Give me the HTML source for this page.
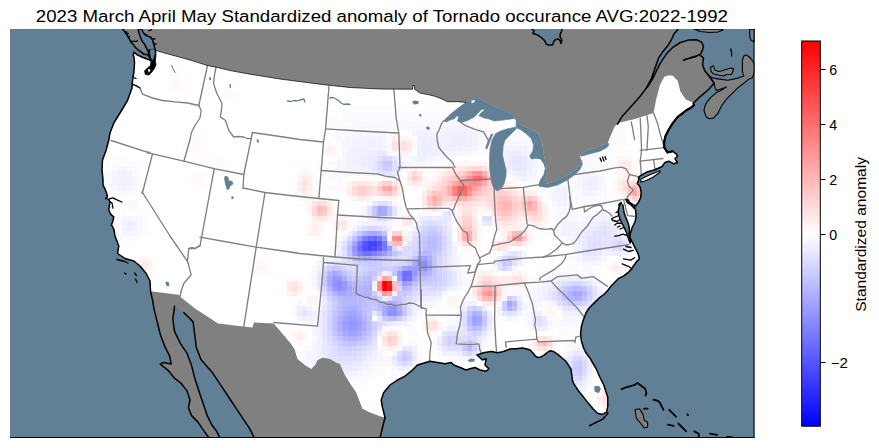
<!DOCTYPE html>
<html><head><meta charset="utf-8"><title>Tornado anomaly</title>
<style>html,body{margin:0;padding:0;background:#fff;overflow:hidden;}svg{display:block;}</style></head>
<body><svg width="879" height="448" viewBox="0 0 879 448"><defs><clipPath id="ax"><rect x="10" y="29.1" width="744.5" height="408.9"/></clipPath><clipPath id="us"><polygon points="155.6,50.5 170.0,54.5 190.0,60.0 207.5,65.5 216.2,67.2 230.0,70.5 250.0,74.2 280.0,79.0 320.0,84.2 350.0,87.5 380.0,89.0 412.5,89.2 413.0,85.5 414.5,85.5 414.5,89.2 420.0,93.0 430.0,95.0 435.4,96.4 440.7,98.4 447.4,101.7 456.8,101.7 462.0,102.0 466.1,102.4 466.1,102.4 471.5,99.7 477.5,97.7 483.5,101.1 494.3,106.4 505.0,111.1 511.7,113.8 514.3,117.1 516.2,120.0 520.3,124.7 531.3,129.4 539.1,134.1 542.2,143.4 543.8,154.4 546.1,165.3 546.9,171.6 545.3,179.4 542.2,184.1 547.5,183.8 557.5,180.0 567.5,175.0 575.0,170.0 580.0,165.0 581.2,160.0 580.0,155.0 585.0,151.2 595.0,148.0 605.0,143.8 608.0,142.5 610.0,137.5 615.0,126.2 620.0,122.5 635.0,119.0 653.6,112.9 656.0,100.0 660.0,85.0 664.3,76.7 668.0,75.5 672.4,75.4 677.7,80.7 680.4,91.4 685.8,99.5 692.5,102.2 694.0,105.0 691.2,107.5 686.0,110.5 683.1,112.9 677.7,116.9 672.4,123.6 668.4,130.3 665.5,136.0 664.3,141.0 664.3,147.7 667.5,152.5 672.5,151.2 676.2,153.8 677.5,156.2 675.0,158.8 677.5,162.5 673.8,163.8 668.8,161.2 665.0,162.5 661.8,166.7 654.0,170.0 646.2,172.3 640.6,175.6 638.4,177.8 639.0,179.0 637.3,183.4 640.1,186.8 641.2,192.3 640.6,197.9 638.4,202.4 635.6,205.7 634.2,208.1 635.5,209.4 636.2,216.8 634.9,222.2 632.2,227.5 630.2,234.2 629.8,235.5 630.3,238.5 630.8,239.3 633.3,244.2 635.7,249.1 638.2,254.0 639.4,258.9 636.9,261.3 633.3,266.3 630.8,269.9 628.3,272.4 623.4,276.1 618.5,278.5 614.8,282.2 611.2,285.9 607.5,290.8 603.8,294.5 598.9,298.2 594.0,303.1 589.1,308.0 586.2,312.5 583.3,320.0 581.3,326.8 580.6,333.7 581.3,340.5 583.3,347.3 586.0,352.8 590.0,358.2 592.5,362.5 596.2,368.8 600.0,377.5 603.8,385.0 606.2,392.5 607.8,397.3 607.8,406.4 606.6,412.1 602.1,414.4 597.5,413.2 593.0,408.7 587.3,401.9 582.8,396.2 578.2,390.5 573.7,383.7 572.4,380.0 571.7,374.6 571.0,369.1 568.3,365.0 565.6,361.0 561.5,357.5 557.4,354.1 553.3,351.4 550.5,350.7 547.8,352.1 544.4,354.8 541.0,356.9 538.3,357.5 535.5,356.2 532.8,352.8 530.1,350.0 526.0,348.7 521.9,348.0 516.4,348.7 511.0,348.7 505.5,350.7 501.4,352.1 497.3,352.8 491.8,351.4 487.7,352.1 483.6,352.8 480.0,354.0 477.0,355.0 482.5,360.0 486.2,358.8 485.0,365.0 488.8,368.8 486.2,371.2 480.0,370.0 475.0,367.5 470.0,368.8 466.2,370.0 460.0,367.5 453.8,365.0 451.2,362.5 445.0,363.8 437.5,362.5 430.0,361.2 417.5,365.0 412.5,370.0 405.0,376.2 397.5,380.0 390.0,385.0 383.8,392.5 381.2,400.0 382.5,407.5 385.0,417.5 380.0,416.2 370.0,412.5 362.5,408.8 360.0,402.5 356.2,392.5 351.2,385.0 345.0,375.0 340.0,363.8 336.2,362.5 330.0,358.8 322.5,357.5 317.5,360.0 315.0,365.0 311.2,368.8 305.0,365.0 297.5,358.8 295.0,350.0 290.0,342.5 282.5,333.8 275.0,325.0 273.8,323.5 254.1,322.5 252.5,327.5 243.1,326.6 218.1,323.4 195.0,308.5 180.0,296.5 178.8,294.8 152.5,291.5 150.5,291.0 150.0,281.0 146.2,273.5 140.0,266.0 133.8,261.0 125.0,258.5 117.5,253.5 118.8,246.0 115.0,236.0 113.8,229.0 111.5,225.0 112.9,220.7 113.8,217.1 110.2,213.6 108.8,210.0 109.3,205.5 110.2,202.0 108.4,199.3 105.7,198.4 107.5,196.6 106.6,193.0 104.8,188.6 103.0,185.0 103.0,180.0 102.0,170.0 102.5,160.0 106.2,150.0 108.8,140.0 110.0,133.0 113.8,123.0 120.0,113.0 127.5,100.5 132.0,88.0 132.5,80.5 133.8,73.0 134.5,63.0 134.2,58.4 133.8,52.1 137.3,54.8 141.8,57.0 146.2,58.8 149.8,60.1 151.6,61.0 152.5,62.8 154.0,58.0 155.6,53.0"/></clipPath><linearGradient id="cb" x1="0" y1="0" x2="0" y2="1"><stop offset="0" stop-color="#ff0000"/><stop offset="0.5014" stop-color="#ffffff"/><stop offset="1" stop-color="#0000ff"/></linearGradient></defs>
<text x="35.8" y="21.6" font-family="Liberation Sans, sans-serif" font-size="16.67" textLength="692.2" lengthAdjust="spacingAndGlyphs" fill="#000">2023 March April May Standardized anomaly of Tornado occurance AVG:2022-1992</text>
<g clip-path="url(#ax)">
<rect x="10" y="29.1" width="744.5" height="408.9" fill="#808080"/>
<polygon points="10.0,29.1 122.6,29.1 122.6,29.3 124.8,31.6 126.6,34.2 128.4,36.9 129.7,39.6 131.1,42.3 133.3,44.5 134.2,45.9 136.4,48.5 140.0,51.2 143.6,53.9 147.1,54.8 149.8,54.8 148.0,51.2 146.2,47.6 144.5,44.1 141.8,40.5 140.0,36.0 138.7,31.6 138.2,29.1 141.8,29.1 142.7,31.6 144.5,34.2 146.2,35.6 149.8,36.9 152.5,39.6 153.4,43.2 154.3,45.9 155.2,50.3 155.6,53.0 154.0,58.0 152.5,62.8 151.6,61.0 149.8,60.1 146.2,58.8 141.8,57.0 137.3,54.8 133.8,52.1 133.3,54.8 134.2,58.4 134.5,63.0 133.8,73.0 132.5,80.5 132.0,88.0 127.5,100.5 120.0,113.0 113.8,123.0 110.0,133.0 108.8,140.0 106.2,150.0 102.5,160.0 102.0,170.0 103.0,180.0 103.0,185.0 104.8,188.6 106.6,193.0 107.5,196.6 105.7,198.4 108.4,199.3 110.2,202.0 109.3,205.5 108.8,210.0 110.2,213.6 113.8,217.1 112.9,220.7 111.5,225.0 113.8,229.0 115.0,236.0 118.8,246.0 117.5,253.5 125.0,258.5 133.8,261.0 140.0,266.0 146.2,273.5 150.0,281.0 150.5,291.0 152.5,300.0 154.1,309.4 157.2,321.9 160.3,334.4 165.0,346.9 169.7,356.2 171.2,364.1 163.4,362.5 160.3,364.1 168.1,370.3 174.4,378.1 180.6,382.8 186.9,390.6 190.0,400.0 188.4,407.8 191.6,415.6 197.8,421.9 204.1,431.2 208.8,437.5 209.0,438.0 10.0,438.0" fill="#617f95" />
<polygon points="380.0,438.0 380.0,438.0 382.5,427.5 385.0,417.5 385.0,417.5 382.5,407.5 381.2,400.0 383.8,392.5 390.0,385.0 397.5,380.0 405.0,376.2 412.5,370.0 417.5,365.0 430.0,361.2 437.5,362.5 445.0,363.8 451.2,362.5 453.8,365.0 460.0,367.5 466.2,370.0 470.0,368.8 475.0,367.5 480.0,370.0 486.2,371.2 488.8,368.8 485.0,365.0 486.2,358.8 482.5,360.0 477.0,355.0 480.0,354.0 483.6,352.8 487.7,352.1 491.8,351.4 497.3,352.8 501.4,352.1 505.5,350.7 511.0,348.7 516.4,348.7 521.9,348.0 526.0,348.7 530.1,350.0 532.8,352.8 535.5,356.2 538.3,357.5 541.0,356.9 544.4,354.8 547.8,352.1 550.5,350.7 553.3,351.4 557.4,354.1 561.5,357.5 565.6,361.0 568.3,365.0 571.0,369.1 571.7,374.6 572.4,380.0 573.7,383.7 578.2,390.5 582.8,396.2 587.3,401.9 593.0,408.7 597.5,413.2 602.1,414.4 606.6,412.1 607.8,406.4 607.8,397.3 606.2,392.5 603.8,385.0 600.0,377.5 596.2,368.8 592.5,362.5 590.0,358.2 586.0,352.8 583.3,347.3 581.3,340.5 580.6,333.7 581.3,326.8 583.3,320.0 586.2,312.5 589.1,308.0 594.0,303.1 598.9,298.2 603.8,294.5 607.5,290.8 611.2,285.9 614.8,282.2 618.5,278.5 623.4,276.1 628.3,272.4 630.8,269.9 633.3,266.3 636.9,261.3 639.4,258.9 638.2,254.0 635.7,249.1 633.3,244.2 630.8,239.3 630.3,238.5 629.8,235.5 630.2,234.2 632.2,227.5 634.9,222.2 636.2,216.8 635.5,209.4 634.2,208.1 635.6,205.7 638.4,202.4 640.6,197.9 641.2,192.3 640.1,186.8 637.3,183.4 639.0,179.0 638.4,177.8 640.6,175.6 646.2,172.3 654.0,170.0 661.8,166.7 665.0,162.5 668.8,161.2 673.8,163.8 677.5,162.5 675.0,158.8 677.5,156.2 676.2,153.8 672.5,151.2 667.5,152.5 664.3,147.7 664.3,141.0 665.5,136.0 668.4,130.3 672.4,123.6 677.7,116.9 683.1,112.9 686.0,110.5 691.2,107.5 694.0,105.0 694.0,105.0 693.1,103.6 698.9,97.7 703.2,94.1 709.0,89.0 712.7,84.7 714.1,83.2 712.0,80.0 709.0,76.0 704.5,70.2 702.5,64.2 703.5,58.2 701.5,56.1 698.5,55.1 690.5,57.7 683.4,60.2 685.4,59.2 694.5,57.1 700.5,54.1 702.5,50.1 703.5,46.1 701.5,42.1 696.5,39.7 688.4,40.1 680.4,42.5 672.4,47.7 666.3,54.1 660.3,63.2 656.3,71.2 652.3,79.3 647.2,87.3 646.2,88.3 651.5,78.3 655.0,68.2 658.5,58.2 662.5,52.1 667.5,46.1 671.2,40.1 674.0,34.0 677.4,30.0 678.0,29.1 754.5,29.1 754.5,438.0" fill="#617f95" />
<polygon points="174.4,306.2 174.4,307.8 172.8,318.8 174.4,331.2 180.6,343.8 186.9,353.1 191.6,365.6 194.7,378.1 197.8,387.5 200.9,396.9 204.1,406.2 207.2,415.6 211.9,425.0 216.6,431.2 219.7,437.5 220.5,438.0 254.5,438.0 254.1,437.5 249.4,428.1 243.1,418.8 236.9,409.4 230.6,400.0 224.4,390.6 218.1,381.2 211.9,371.9 200.9,359.4 196.2,346.9 194.7,334.4 193.1,321.9 183.8,312.5" fill="#617f95" />
<polygon points="531.8,29.1 534.1,30.7 532.8,33.5 534.6,33.9 538.2,35.3 541.9,38.0 544.6,40.7 546.4,44.4 549.1,45.3 552.8,44.8 553.7,41.6 555.5,39.8 558.2,38.9 560.1,40.7 561.0,43.5 561.9,39.8 560.1,37.1 560.1,34.4 561.4,31.6 562.3,29.1" fill="#617f95" />
<polygon points="714.1,83.2 714.8,86.9 716.3,90.5 720.7,89.0 726.5,86.9 722.1,89.8 716.3,92.7 710.5,97.7 706.9,102.1 704.7,106.5 704.0,110.8 706.1,116.6 709.0,118.8 713.4,118.1 717.7,113.7 722.1,105.0 726.5,99.2 732.3,93.4 738.1,87.6 743.9,83.2 748.2,79.6 752.6,77.4 754.0,73.1 755.0,70.0 755.0,65.0 753.3,62.0 750.8,58.5 748.7,56.5 746.0,55.0 744.0,56.0 742.4,60.0 742.4,65.8 742.4,71.6 743.9,76.0 738.1,78.1 727.9,80.3 717.7,78.9 713.0,78.0 709.0,76.0" fill="#808080" stroke="#000" stroke-width="1.1" stroke-linejoin="round"/>
<polygon points="710.5,67.3 713.4,65.8 714.8,70.2 719.2,71.6 723.6,70.2 730.8,68.0 733.7,68.7 731.5,74.5 726.5,74.5 723.6,76.0 719.2,75.2 713.4,73.8 711.2,71.6" fill="#808080" stroke="#000" stroke-width="1.1" stroke-linejoin="round"/>
<polygon points="749.7,29.1 754.5,29.1 754.5,42.1 750.8,40.1 749.7,36.0" fill="#808080" stroke="#000" stroke-width="1.1" stroke-linejoin="round"/>
<polygon points="694.0,29.1 700.0,31.5 710.0,32.5 718.0,32.0 723.0,30.0 723.0,29.1" fill="#808080" stroke="#000" stroke-width="1.1" stroke-linejoin="round"/>
<polygon points="635.1,409.8 639.6,408.7 643.0,414.4 644.2,420.1 647.6,422.3 647.6,426.9 644.2,428.0 640.8,423.5 636.2,417.8" fill="#808080" stroke="#000" stroke-width="1.1" stroke-linejoin="round"/>
<polygon points="155.6,50.5 170.0,54.5 190.0,60.0 207.5,65.5 216.2,67.2 230.0,70.5 250.0,74.2 280.0,79.0 320.0,84.2 350.0,87.5 380.0,89.0 412.5,89.2 413.0,85.5 414.5,85.5 414.5,89.2 420.0,93.0 430.0,95.0 435.4,96.4 440.7,98.4 447.4,101.7 456.8,101.7 462.0,102.0 466.1,102.4 466.1,102.4 471.5,99.7 477.5,97.7 483.5,101.1 494.3,106.4 505.0,111.1 511.7,113.8 514.3,117.1 516.2,120.0 520.3,124.7 531.3,129.4 539.1,134.1 542.2,143.4 543.8,154.4 546.1,165.3 546.9,171.6 545.3,179.4 542.2,184.1 547.5,183.8 557.5,180.0 567.5,175.0 575.0,170.0 580.0,165.0 581.2,160.0 580.0,155.0 585.0,151.2 595.0,148.0 605.0,143.8 608.0,142.5 610.0,137.5 615.0,126.2 620.0,122.5 635.0,119.0 653.6,112.9 656.0,100.0 660.0,85.0 664.3,76.7 668.0,75.5 672.4,75.4 677.7,80.7 680.4,91.4 685.8,99.5 692.5,102.2 694.0,105.0 691.2,107.5 686.0,110.5 683.1,112.9 677.7,116.9 672.4,123.6 668.4,130.3 665.5,136.0 664.3,141.0 664.3,147.7 667.5,152.5 672.5,151.2 676.2,153.8 677.5,156.2 675.0,158.8 677.5,162.5 673.8,163.8 668.8,161.2 665.0,162.5 661.8,166.7 654.0,170.0 646.2,172.3 640.6,175.6 638.4,177.8 639.0,179.0 637.3,183.4 640.1,186.8 641.2,192.3 640.6,197.9 638.4,202.4 635.6,205.7 634.2,208.1 635.5,209.4 636.2,216.8 634.9,222.2 632.2,227.5 630.2,234.2 629.8,235.5 630.3,238.5 630.8,239.3 633.3,244.2 635.7,249.1 638.2,254.0 639.4,258.9 636.9,261.3 633.3,266.3 630.8,269.9 628.3,272.4 623.4,276.1 618.5,278.5 614.8,282.2 611.2,285.9 607.5,290.8 603.8,294.5 598.9,298.2 594.0,303.1 589.1,308.0 586.2,312.5 583.3,320.0 581.3,326.8 580.6,333.7 581.3,340.5 583.3,347.3 586.0,352.8 590.0,358.2 592.5,362.5 596.2,368.8 600.0,377.5 603.8,385.0 606.2,392.5 607.8,397.3 607.8,406.4 606.6,412.1 602.1,414.4 597.5,413.2 593.0,408.7 587.3,401.9 582.8,396.2 578.2,390.5 573.7,383.7 572.4,380.0 571.7,374.6 571.0,369.1 568.3,365.0 565.6,361.0 561.5,357.5 557.4,354.1 553.3,351.4 550.5,350.7 547.8,352.1 544.4,354.8 541.0,356.9 538.3,357.5 535.5,356.2 532.8,352.8 530.1,350.0 526.0,348.7 521.9,348.0 516.4,348.7 511.0,348.7 505.5,350.7 501.4,352.1 497.3,352.8 491.8,351.4 487.7,352.1 483.6,352.8 480.0,354.0 477.0,355.0 482.5,360.0 486.2,358.8 485.0,365.0 488.8,368.8 486.2,371.2 480.0,370.0 475.0,367.5 470.0,368.8 466.2,370.0 460.0,367.5 453.8,365.0 451.2,362.5 445.0,363.8 437.5,362.5 430.0,361.2 417.5,365.0 412.5,370.0 405.0,376.2 397.5,380.0 390.0,385.0 383.8,392.5 381.2,400.0 382.5,407.5 385.0,417.5 380.0,416.2 370.0,412.5 362.5,408.8 360.0,402.5 356.2,392.5 351.2,385.0 345.0,375.0 340.0,363.8 336.2,362.5 330.0,358.8 322.5,357.5 317.5,360.0 315.0,365.0 311.2,368.8 305.0,365.0 297.5,358.8 295.0,350.0 290.0,342.5 282.5,333.8 275.0,325.0 273.8,323.5 254.1,322.5 252.5,327.5 243.1,326.6 218.1,323.4 195.0,308.5 180.0,296.5 178.8,294.8 152.5,291.5 150.5,291.0 150.0,281.0 146.2,273.5 140.0,266.0 133.8,261.0 125.0,258.5 117.5,253.5 118.8,246.0 115.0,236.0 113.8,229.0 111.5,225.0 112.9,220.7 113.8,217.1 110.2,213.6 108.8,210.0 109.3,205.5 110.2,202.0 108.4,199.3 105.7,198.4 107.5,196.6 106.6,193.0 104.8,188.6 103.0,185.0 103.0,180.0 102.0,170.0 102.5,160.0 106.2,150.0 108.8,140.0 110.0,133.0 113.8,123.0 120.0,113.0 127.5,100.5 132.0,88.0 132.5,80.5 133.8,73.0 134.5,63.0 134.2,58.4 133.8,52.1 137.3,54.8 141.8,57.0 146.2,58.8 149.8,60.1 151.6,61.0 152.5,62.8 154.0,58.0 155.6,53.0" fill="#ffffff" />
<g clip-path="url(#us)"><path fill="#fffcfc" d="M167.1 71.1h15v5h-15zM167.1 76.1h5v5h-5zM182.1 76.1h5v5h-5zM167.1 81.1h5v5h-5zM182.1 81.1h5v5h-5zM222.1 81.1h15v5h-15zM167.1 86.1h5v5h-5zM182.1 86.1h5v5h-5zM222.1 86.1h5v5h-5zM232.1 86.1h5v5h-5zM217.1 91.1h5v5h-5zM237.1 91.1h5v5h-5zM222.1 96.1h15v5h-15zM187.1 131.1h15v5h-15zM392.1 131.1h5v5h-5zM182.1 136.1h10v5h-10zM197.1 136.1h10v5h-10zM182.1 141.1h5v5h-5zM202.1 141.1h5v5h-5zM322.1 141.1h5v5h-5zM332.1 141.1h5v5h-5zM182.1 146.1h5v5h-5zM202.1 146.1h5v5h-5zM182.1 151.1h25v5h-25zM617.1 151.1h15v5h-15zM192.1 156.1h5v5h-5zM212.1 156.1h15v5h-15zM327.1 156.1h5v5h-5zM612.1 156.1h5v5h-5zM632.1 156.1h5v5h-5zM212.1 161.1h5v5h-5zM222.1 161.1h10v5h-10zM442.1 161.1h5v5h-5zM487.1 161.1h5v5h-5zM612.1 161.1h5v5h-5zM207.1 166.1h5v5h-5zM227.1 166.1h5v5h-5zM297.1 166.1h5v5h-5zM307.1 166.1h5v5h-5zM407.1 166.1h5v5h-5zM417.1 166.1h5v5h-5zM432.1 166.1h5v5h-5zM612.1 166.1h5v5h-5zM192.1 171.1h15v5h-15zM212.1 171.1h15v5h-15zM312.1 171.1h5v5h-5zM427.1 171.1h5v5h-5zM612.1 171.1h5v5h-5zM632.1 171.1h5v5h-5zM187.1 176.1h5v5h-5zM202.1 176.1h5v5h-5zM292.1 176.1h5v5h-5zM312.1 176.1h5v5h-5zM352.1 176.1h15v5h-15zM382.1 176.1h15v5h-15zM402.1 176.1h5v5h-5zM507.1 176.1h5v5h-5zM612.1 176.1h5v5h-5zM187.1 181.1h5v5h-5zM202.1 181.1h5v5h-5zM292.1 181.1h5v5h-5zM312.1 181.1h5v5h-5zM342.1 181.1h5v5h-5zM402.1 181.1h5v5h-5zM192.1 186.1h15v5h-15zM292.1 186.1h5v5h-5zM312.1 186.1h5v5h-5zM407.1 186.1h5v5h-5zM522.1 186.1h15v5h-15zM292.1 191.1h5v5h-5zM312.1 191.1h10v5h-10zM402.1 191.1h5v5h-5zM417.1 191.1h5v5h-5zM612.1 191.1h5v5h-5zM127.1 196.1h10v5h-10zM327.1 196.1h5v5h-5zM342.1 196.1h5v5h-5zM397.1 196.1h5v5h-5zM542.1 196.1h5v5h-5zM617.1 196.1h5v5h-5zM122.1 201.1h5v5h-5zM137.1 201.1h5v5h-5zM297.1 201.1h10v5h-10zM332.1 201.1h5v5h-5zM352.1 201.1h10v5h-10zM417.1 201.1h5v5h-5zM622.1 201.1h5v5h-5zM642.1 201.1h5v5h-5zM122.1 206.1h5v5h-5zM302.1 206.1h5v5h-5zM547.1 206.1h5v5h-5zM632.1 206.1h5v5h-5zM302.1 211.1h5v5h-5zM337.1 211.1h10v5h-10zM427.1 211.1h10v5h-10zM487.1 211.1h5v5h-5zM347.1 216.1h5v5h-5zM477.1 216.1h5v5h-5zM547.1 216.1h5v5h-5zM327.1 221.1h5v5h-5zM412.1 221.1h5v5h-5zM452.1 221.1h5v5h-5zM477.1 221.1h5v5h-5zM547.1 221.1h5v5h-5zM302.1 226.1h5v5h-5zM322.1 226.1h5v5h-5zM407.1 226.1h5v5h-5zM452.1 226.1h5v5h-5zM542.1 226.1h5v5h-5zM302.1 231.1h5v5h-5zM322.1 231.1h5v5h-5zM337.1 231.1h10v5h-10zM492.1 231.1h5v5h-5zM532.1 231.1h5v5h-5zM307.1 236.1h15v5h-15zM492.1 236.1h5v5h-5zM532.1 236.1h5v5h-5zM477.1 241.1h5v5h-5zM457.1 246.1h5v5h-5zM142.1 251.1h5v5h-5zM462.1 251.1h15v5h-15zM152.1 256.1h5v5h-5zM252.1 256.1h15v5h-15zM132.1 261.1h5v5h-5zM152.1 261.1h5v5h-5zM247.1 261.1h5v5h-5zM267.1 261.1h5v5h-5zM607.1 261.1h5v5h-5zM622.1 261.1h5v5h-5zM132.1 266.1h5v5h-5zM152.1 266.1h5v5h-5zM247.1 266.1h5v5h-5zM267.1 266.1h5v5h-5zM477.1 266.1h15v5h-15zM137.1 271.1h5v5h-5zM147.1 271.1h5v5h-5zM252.1 271.1h5v5h-5zM267.1 271.1h5v5h-5zM472.1 271.1h5v5h-5zM507.1 271.1h5v5h-5zM607.1 271.1h5v5h-5zM622.1 271.1h5v5h-5zM257.1 276.1h5v5h-5zM297.1 276.1h5v5h-5zM392.1 276.1h5v5h-5zM527.1 276.1h5v5h-5zM612.1 276.1h10v5h-10zM302.1 281.1h5v5h-5zM467.1 281.1h5v5h-5zM527.1 281.1h5v5h-5zM302.1 286.1h5v5h-5zM467.1 286.1h5v5h-5zM522.1 286.1h5v5h-5zM282.1 291.1h5v5h-5zM302.1 291.1h5v5h-5zM312.1 291.1h5v5h-5zM447.1 291.1h10v5h-10zM287.1 296.1h20v5h-20zM442.1 296.1h5v5h-5zM457.1 296.1h5v5h-5zM442.1 301.1h5v5h-5zM457.1 301.1h5v5h-5zM477.1 301.1h5v5h-5zM497.1 301.1h5v5h-5zM447.1 306.1h10v5h-10zM552.1 306.1h5v5h-5zM542.1 311.1h5v5h-5zM422.1 316.1h5v5h-5zM437.1 316.1h5v5h-5zM292.1 326.1h15v5h-15zM287.1 331.1h5v5h-5zM422.1 331.1h5v5h-5zM287.1 336.1h5v5h-5zM402.1 336.1h5v5h-5zM527.1 336.1h5v5h-5zM292.1 341.1h5v5h-5zM302.1 341.1h5v5h-5zM527.1 341.1h5v5h-5zM557.1 341.1h5v5h-5zM527.1 346.1h5v5h-5zM537.1 351.1h15v5h-15zM597.1 386.1h5v5h-5zM607.1 386.1h5v5h-5zM597.1 406.1h5v5h-5zM607.1 406.1h5v5h-5zM602.1 411.1h5v5h-5z"/>
<path fill="#fff9f9" d="M172.1 76.1h10v5h-10zM172.1 86.1h10v5h-10zM227.1 86.1h5v5h-5zM222.1 91.1h15v5h-15zM192.1 136.1h5v5h-5zM387.1 136.1h5v5h-5zM187.1 141.1h15v5h-15zM327.1 141.1h5v5h-5zM412.1 141.1h5v5h-5zM187.1 146.1h15v5h-15zM322.1 146.1h5v5h-5zM412.1 146.1h5v5h-5zM322.1 151.1h5v5h-5zM392.1 151.1h10v5h-10zM217.1 161.1h5v5h-5zM447.1 161.1h10v5h-10zM482.1 161.1h5v5h-5zM632.1 161.1h5v5h-5zM212.1 166.1h15v5h-15zM302.1 166.1h5v5h-5zM412.1 166.1h5v5h-5zM437.1 166.1h5v5h-5zM492.1 166.1h5v5h-5zM632.1 166.1h5v5h-5zM297.1 171.1h5v5h-5zM422.1 171.1h5v5h-5zM432.1 171.1h5v5h-5zM497.1 171.1h5v5h-5zM617.1 171.1h5v5h-5zM192.1 176.1h10v5h-10zM427.1 176.1h5v5h-5zM502.1 176.1h5v5h-5zM637.1 176.1h5v5h-5zM192.1 181.1h10v5h-10zM512.1 181.1h5v5h-5zM612.1 181.1h5v5h-5zM642.1 181.1h5v5h-5zM342.1 186.1h5v5h-5zM402.1 186.1h5v5h-5zM412.1 186.1h10v5h-10zM612.1 186.1h5v5h-5zM342.1 191.1h5v5h-5zM537.1 191.1h5v5h-5zM297.1 196.1h5v5h-5zM347.1 196.1h5v5h-5zM372.1 196.1h10v5h-10zM417.1 196.1h5v5h-5zM127.1 206.1h10v5h-10zM332.1 206.1h5v5h-5zM442.1 206.1h5v5h-5zM452.1 206.1h5v5h-5zM332.1 211.1h5v5h-5zM402.1 211.1h10v5h-10zM477.1 211.1h5v5h-5zM547.1 211.1h5v5h-5zM307.1 216.1h5v5h-5zM332.1 216.1h5v5h-5zM397.1 216.1h5v5h-5zM412.1 216.1h5v5h-5zM307.1 221.1h5v5h-5zM322.1 221.1h5v5h-5zM397.1 221.1h5v5h-5zM492.1 221.1h5v5h-5zM332.1 226.1h5v5h-5zM347.1 226.1h5v5h-5zM397.1 226.1h10v5h-10zM477.1 226.1h5v5h-5zM492.1 226.1h5v5h-5zM527.1 226.1h15v5h-15zM477.1 231.1h5v5h-5zM497.1 231.1h5v5h-5zM387.1 236.1h5v5h-5zM477.1 236.1h5v5h-5zM497.1 236.1h5v5h-5zM487.1 241.1h5v5h-5zM527.1 241.1h5v5h-5zM472.1 246.1h5v5h-5zM487.1 246.1h5v5h-5zM137.1 256.1h5v5h-5zM147.1 256.1h5v5h-5zM252.1 261.1h5v5h-5zM262.1 261.1h5v5h-5zM252.1 266.1h5v5h-5zM607.1 266.1h5v5h-5zM622.1 266.1h5v5h-5zM142.1 271.1h5v5h-5zM257.1 271.1h10v5h-10zM492.1 271.1h5v5h-5zM522.1 271.1h5v5h-5zM287.1 276.1h10v5h-10zM282.1 281.1h5v5h-5zM282.1 286.1h5v5h-5zM507.1 286.1h5v5h-5zM307.1 291.1h5v5h-5zM467.1 291.1h5v5h-5zM542.1 306.1h5v5h-5zM387.1 326.1h10v5h-10zM552.1 336.1h5v5h-5zM297.1 341.1h5v5h-5zM552.1 346.1h5v5h-5zM602.1 386.1h5v5h-5zM607.1 391.1h5v5h-5zM607.1 401.1h5v5h-5z"/>
<path fill="#fff6f6" d="M172.1 81.1h10v5h-10zM407.1 136.1h5v5h-5zM387.1 146.1h5v5h-5zM332.1 151.1h5v5h-5zM407.1 151.1h5v5h-5zM617.1 156.1h5v5h-5zM627.1 156.1h5v5h-5zM457.1 161.1h25v5h-25zM442.1 166.1h5v5h-5zM307.1 171.1h5v5h-5zM627.1 171.1h5v5h-5zM617.1 176.1h5v5h-5zM632.1 176.1h5v5h-5zM347.1 181.1h5v5h-5zM422.1 181.1h5v5h-5zM422.1 186.1h5v5h-5zM517.1 186.1h5v5h-5zM297.1 191.1h5v5h-5zM617.1 191.1h5v5h-5zM302.1 196.1h15v5h-15zM322.1 196.1h5v5h-5zM382.1 196.1h5v5h-5zM392.1 196.1h5v5h-5zM622.1 196.1h5v5h-5zM642.1 196.1h5v5h-5zM127.1 201.1h10v5h-10zM307.1 201.1h5v5h-5zM542.1 201.1h5v5h-5zM627.1 201.1h5v5h-5zM637.1 201.1h5v5h-5zM422.1 206.1h5v5h-5zM307.1 211.1h5v5h-5zM327.1 216.1h5v5h-5zM332.1 221.1h5v5h-5zM347.1 221.1h5v5h-5zM522.1 221.1h5v5h-5zM542.1 221.1h5v5h-5zM307.1 226.1h5v5h-5zM522.1 226.1h5v5h-5zM307.1 231.1h5v5h-5zM317.1 231.1h5v5h-5zM402.1 231.1h5v5h-5zM462.1 246.1h5v5h-5zM507.1 246.1h5v5h-5zM142.1 256.1h5v5h-5zM257.1 261.1h5v5h-5zM612.1 261.1h10v5h-10zM137.1 266.1h5v5h-5zM262.1 266.1h5v5h-5zM612.1 271.1h10v5h-10zM472.1 276.1h5v5h-5zM512.1 286.1h10v5h-10zM297.1 291.1h5v5h-5zM307.1 301.1h10v5h-10zM447.1 301.1h10v5h-10zM547.1 306.1h5v5h-5zM547.1 311.1h10v5h-10zM427.1 316.1h5v5h-5zM422.1 321.1h5v5h-5zM422.1 326.1h5v5h-5zM437.1 326.1h5v5h-5zM292.1 331.1h5v5h-5zM302.1 331.1h5v5h-5zM427.1 331.1h10v5h-10zM292.1 336.1h5v5h-5zM302.1 336.1h5v5h-5zM532.1 336.1h5v5h-5zM382.1 346.1h5v5h-5zM532.1 346.1h5v5h-5zM597.1 391.1h5v5h-5zM607.1 396.1h5v5h-5zM602.1 406.1h5v5h-5z"/>
<path fill="#fcfcff" d="M352.1 106.1h40v5h-40zM342.1 111.1h140v5h-140zM547.1 111.1h55v5h-55zM332.1 116.1h115v5h-115zM472.1 116.1h15v5h-15zM537.1 116.1h30v5h-30zM582.1 116.1h30v5h-30zM327.1 121.1h25v5h-25zM482.1 121.1h10v5h-10zM527.1 121.1h25v5h-25zM597.1 121.1h20v5h-20zM327.1 126.1h15v5h-15zM487.1 126.1h10v5h-10zM517.1 126.1h25v5h-25zM607.1 126.1h15v5h-15zM322.1 131.1h15v5h-15zM407.1 131.1h5v5h-5zM487.1 131.1h50v5h-50zM607.1 131.1h20v5h-20zM332.1 136.1h5v5h-5zM492.1 136.1h20v5h-20zM612.1 136.1h15v5h-15zM337.1 141.1h5v5h-5zM492.1 141.1h10v5h-10zM612.1 141.1h15v5h-15zM487.1 146.1h10v5h-10zM607.1 146.1h10v5h-10zM412.1 151.1h5v5h-5zM477.1 151.1h20v5h-20zM602.1 151.1h10v5h-10zM117.1 156.1h10v5h-10zM442.1 156.1h10v5h-10zM492.1 156.1h5v5h-5zM547.1 156.1h10v5h-10zM597.1 156.1h10v5h-10zM107.1 161.1h30v5h-30zM317.1 161.1h15v5h-15zM432.1 161.1h5v5h-5zM542.1 161.1h35v5h-35zM597.1 161.1h10v5h-10zM102.1 166.1h10v5h-10zM132.1 166.1h10v5h-10zM317.1 166.1h15v5h-15zM542.1 166.1h35v5h-35zM602.1 166.1h5v5h-5zM102.1 171.1h5v5h-5zM137.1 171.1h5v5h-5zM322.1 171.1h10v5h-10zM537.1 171.1h10v5h-10zM562.1 171.1h15v5h-15zM602.1 171.1h5v5h-5zM102.1 176.1h5v5h-5zM137.1 176.1h5v5h-5zM322.1 176.1h10v5h-10zM342.1 176.1h5v5h-5zM537.1 176.1h10v5h-10zM552.1 176.1h20v5h-20zM102.1 181.1h5v5h-5zM137.1 181.1h5v5h-5zM322.1 181.1h20v5h-20zM522.1 181.1h20v5h-20zM547.1 181.1h10v5h-10zM102.1 186.1h5v5h-5zM137.1 186.1h5v5h-5zM327.1 186.1h10v5h-10zM547.1 186.1h5v5h-5zM107.1 191.1h5v5h-5zM127.1 191.1h10v5h-10zM602.1 191.1h5v5h-5zM112.1 196.1h10v5h-10zM547.1 196.1h5v5h-5zM597.1 196.1h10v5h-10zM397.1 201.1h15v5h-15zM572.1 201.1h40v5h-40zM352.1 206.1h10v5h-10zM412.1 206.1h5v5h-5zM552.1 206.1h5v5h-5zM572.1 206.1h50v5h-50zM117.1 211.1h10v5h-10zM137.1 211.1h5v5h-5zM352.1 211.1h10v5h-10zM397.1 211.1h5v5h-5zM482.1 211.1h5v5h-5zM577.1 211.1h10v5h-10zM622.1 211.1h10v5h-10zM112.1 216.1h5v5h-5zM142.1 216.1h5v5h-5zM357.1 216.1h5v5h-5zM552.1 216.1h5v5h-5zM627.1 216.1h5v5h-5zM112.1 221.1h5v5h-5zM142.1 221.1h5v5h-5zM352.1 221.1h5v5h-5zM392.1 221.1h5v5h-5zM552.1 221.1h5v5h-5zM627.1 221.1h10v5h-10zM112.1 226.1h5v5h-5zM142.1 226.1h5v5h-5zM632.1 226.1h5v5h-5zM117.1 231.1h5v5h-5zM142.1 231.1h5v5h-5zM547.1 231.1h5v5h-5zM632.1 231.1h5v5h-5zM117.1 236.1h25v5h-25zM332.1 236.1h5v5h-5zM452.1 236.1h5v5h-5zM552.1 236.1h5v5h-5zM632.1 236.1h5v5h-5zM332.1 241.1h5v5h-5zM552.1 241.1h15v5h-15zM632.1 241.1h5v5h-5zM327.1 246.1h5v5h-5zM517.1 246.1h5v5h-5zM562.1 246.1h10v5h-10zM632.1 246.1h5v5h-5zM322.1 251.1h10v5h-10zM457.1 251.1h5v5h-5zM497.1 251.1h5v5h-5zM567.1 251.1h5v5h-5zM317.1 256.1h5v5h-5zM527.1 256.1h5v5h-5zM567.1 256.1h5v5h-5zM607.1 256.1h5v5h-5zM622.1 256.1h5v5h-5zM312.1 261.1h5v5h-5zM462.1 261.1h5v5h-5zM567.1 261.1h10v5h-10zM602.1 261.1h5v5h-5zM462.1 266.1h5v5h-5zM542.1 266.1h40v5h-40zM592.1 266.1h10v5h-10zM307.1 271.1h5v5h-5zM502.1 271.1h5v5h-5zM537.1 271.1h15v5h-15zM592.1 271.1h10v5h-10zM307.1 276.1h5v5h-5zM532.1 276.1h10v5h-10zM597.1 276.1h5v5h-5zM307.1 281.1h5v5h-5zM532.1 281.1h5v5h-5zM602.1 281.1h5v5h-5zM462.1 286.1h5v5h-5zM527.1 286.1h5v5h-5zM607.1 286.1h5v5h-5zM517.1 291.1h10v5h-10zM607.1 291.1h5v5h-5zM607.1 296.1h5v5h-5zM292.1 301.1h5v5h-5zM317.1 301.1h5v5h-5zM437.1 301.1h5v5h-5zM542.1 301.1h5v5h-5zM607.1 301.1h5v5h-5zM312.1 306.1h5v5h-5zM432.1 306.1h10v5h-10zM457.1 306.1h5v5h-5zM537.1 306.1h5v5h-5zM602.1 306.1h5v5h-5zM422.1 311.1h5v5h-5zM597.1 311.1h5v5h-5zM292.1 316.1h5v5h-5zM417.1 316.1h5v5h-5zM447.1 316.1h10v5h-10zM497.1 316.1h5v5h-5zM517.1 316.1h10v5h-10zM547.1 316.1h5v5h-5zM557.1 316.1h5v5h-5zM587.1 316.1h15v5h-15zM297.1 321.1h5v5h-5zM412.1 321.1h5v5h-5zM522.1 321.1h5v5h-5zM577.1 321.1h15v5h-15zM307.1 326.1h5v5h-5zM402.1 326.1h15v5h-15zM527.1 326.1h5v5h-5zM552.1 326.1h35v5h-35zM407.1 331.1h10v5h-10zM437.1 331.1h5v5h-5zM492.1 331.1h5v5h-5zM557.1 331.1h15v5h-15zM407.1 336.1h10v5h-10zM432.1 336.1h5v5h-5zM487.1 336.1h5v5h-5zM307.1 341.1h5v5h-5zM417.1 341.1h5v5h-5zM487.1 341.1h5v5h-5zM567.1 341.1h25v5h-25zM302.1 346.1h5v5h-5zM397.1 346.1h5v5h-5zM417.1 346.1h5v5h-5zM432.1 346.1h5v5h-5zM482.1 346.1h5v5h-5zM562.1 346.1h5v5h-5zM592.1 346.1h5v5h-5zM292.1 351.1h10v5h-10zM382.1 351.1h5v5h-5zM432.1 351.1h5v5h-5zM482.1 351.1h5v5h-5zM557.1 351.1h5v5h-5zM597.1 351.1h5v5h-5zM292.1 356.1h10v5h-10zM437.1 356.1h10v5h-10zM477.1 356.1h5v5h-5zM557.1 356.1h5v5h-5zM597.1 356.1h5v5h-5zM292.1 361.1h10v5h-10zM417.1 361.1h5v5h-5zM467.1 361.1h5v5h-5zM557.1 361.1h5v5h-5zM597.1 361.1h5v5h-5zM292.1 366.1h15v5h-15zM377.1 366.1h15v5h-15zM417.1 366.1h5v5h-5zM557.1 366.1h5v5h-5zM597.1 366.1h5v5h-5zM297.1 371.1h15v5h-15zM372.1 371.1h15v5h-15zM392.1 371.1h25v5h-25zM557.1 371.1h5v5h-5zM592.1 371.1h5v5h-5zM302.1 376.1h15v5h-15zM362.1 376.1h15v5h-15zM592.1 376.1h5v5h-5zM312.1 381.1h55v5h-55zM562.1 381.1h5v5h-5zM337.1 386.1h5v5h-5zM562.1 386.1h5v5h-5zM587.1 386.1h5v5h-5zM567.1 391.1h20v5h-20z"/>
<path fill="#f9f9ff" d="M447.1 116.1h25v5h-25zM567.1 116.1h15v5h-15zM352.1 121.1h95v5h-95zM467.1 121.1h15v5h-15zM552.1 121.1h45v5h-45zM342.1 126.1h20v5h-20zM377.1 126.1h35v5h-35zM477.1 126.1h10v5h-10zM542.1 126.1h15v5h-15zM592.1 126.1h15v5h-15zM337.1 131.1h15v5h-15zM482.1 131.1h5v5h-5zM537.1 131.1h15v5h-15zM597.1 131.1h10v5h-10zM337.1 136.1h10v5h-10zM482.1 136.1h10v5h-10zM512.1 136.1h35v5h-35zM602.1 136.1h10v5h-10zM482.1 141.1h10v5h-10zM502.1 141.1h10v5h-10zM527.1 141.1h20v5h-20zM602.1 141.1h10v5h-10zM477.1 146.1h10v5h-10zM497.1 146.1h5v5h-5zM537.1 146.1h15v5h-15zM597.1 146.1h10v5h-10zM467.1 151.1h10v5h-10zM497.1 151.1h5v5h-5zM537.1 151.1h25v5h-25zM587.1 151.1h15v5h-15zM337.1 156.1h5v5h-5zM402.1 156.1h10v5h-10zM437.1 156.1h5v5h-5zM497.1 156.1h5v5h-5zM537.1 156.1h10v5h-10zM557.1 156.1h40v5h-40zM332.1 161.1h5v5h-5zM427.1 161.1h5v5h-5zM497.1 161.1h5v5h-5zM537.1 161.1h5v5h-5zM577.1 161.1h20v5h-20zM112.1 166.1h5v5h-5zM127.1 166.1h5v5h-5zM332.1 166.1h5v5h-5zM537.1 166.1h5v5h-5zM577.1 166.1h25v5h-25zM107.1 171.1h5v5h-5zM132.1 171.1h5v5h-5zM332.1 171.1h10v5h-10zM577.1 171.1h5v5h-5zM597.1 171.1h5v5h-5zM107.1 176.1h5v5h-5zM332.1 176.1h10v5h-10zM512.1 176.1h5v5h-5zM532.1 176.1h5v5h-5zM572.1 176.1h5v5h-5zM602.1 176.1h5v5h-5zM107.1 181.1h5v5h-5zM557.1 181.1h20v5h-20zM602.1 181.1h5v5h-5zM107.1 186.1h5v5h-5zM132.1 186.1h5v5h-5zM572.1 186.1h5v5h-5zM602.1 186.1h5v5h-5zM112.1 191.1h15v5h-15zM547.1 191.1h5v5h-5zM572.1 191.1h10v5h-10zM597.1 191.1h5v5h-5zM572.1 196.1h25v5h-25zM367.1 201.1h5v5h-5zM552.1 201.1h5v5h-5zM567.1 201.1h5v5h-5zM447.1 206.1h5v5h-5zM557.1 206.1h15v5h-15zM417.1 211.1h10v5h-10zM452.1 211.1h5v5h-5zM557.1 211.1h20v5h-20zM587.1 211.1h10v5h-10zM607.1 211.1h15v5h-15zM117.1 216.1h5v5h-5zM137.1 216.1h5v5h-5zM362.1 216.1h5v5h-5zM557.1 216.1h5v5h-5zM577.1 216.1h10v5h-10zM622.1 216.1h5v5h-5zM117.1 221.1h5v5h-5zM117.1 226.1h5v5h-5zM137.1 226.1h5v5h-5zM552.1 226.1h5v5h-5zM627.1 226.1h5v5h-5zM137.1 231.1h5v5h-5zM387.1 231.1h5v5h-5zM552.1 231.1h5v5h-5zM627.1 231.1h5v5h-5zM337.1 236.1h5v5h-5zM557.1 236.1h10v5h-10zM567.1 241.1h5v5h-5zM332.1 246.1h5v5h-5zM332.1 251.1h5v5h-5zM572.1 251.1h5v5h-5zM627.1 251.1h5v5h-5zM322.1 256.1h5v5h-5zM457.1 256.1h5v5h-5zM492.1 256.1h5v5h-5zM572.1 256.1h5v5h-5zM457.1 261.1h5v5h-5zM522.1 261.1h5v5h-5zM577.1 261.1h5v5h-5zM597.1 261.1h5v5h-5zM312.1 266.1h5v5h-5zM492.1 266.1h5v5h-5zM582.1 266.1h10v5h-10zM312.1 271.1h5v5h-5zM462.1 271.1h5v5h-5zM552.1 271.1h40v5h-40zM462.1 276.1h5v5h-5zM542.1 276.1h5v5h-5zM592.1 276.1h5v5h-5zM462.1 281.1h5v5h-5zM537.1 281.1h5v5h-5zM312.1 286.1h5v5h-5zM532.1 286.1h5v5h-5zM602.1 286.1h5v5h-5zM507.1 291.1h10v5h-10zM527.1 291.1h5v5h-5zM522.1 296.1h10v5h-10zM602.1 296.1h5v5h-5zM297.1 301.1h5v5h-5zM527.1 301.1h5v5h-5zM547.1 301.1h5v5h-5zM602.1 301.1h5v5h-5zM292.1 306.1h5v5h-5zM422.1 306.1h10v5h-10zM527.1 306.1h5v5h-5zM597.1 306.1h5v5h-5zM292.1 311.1h5v5h-5zM417.1 311.1h5v5h-5zM492.1 311.1h5v5h-5zM522.1 311.1h5v5h-5zM587.1 311.1h10v5h-10zM492.1 316.1h5v5h-5zM502.1 316.1h5v5h-5zM512.1 316.1h5v5h-5zM577.1 316.1h10v5h-10zM302.1 321.1h10v5h-10zM407.1 321.1h5v5h-5zM447.1 321.1h10v5h-10zM492.1 321.1h5v5h-5zM552.1 321.1h25v5h-25zM382.1 326.1h5v5h-5zM442.1 326.1h5v5h-5zM492.1 326.1h5v5h-5zM547.1 326.1h5v5h-5zM312.1 336.1h5v5h-5zM407.1 341.1h10v5h-10zM432.1 341.1h5v5h-5zM482.1 341.1h5v5h-5zM307.1 346.1h5v5h-5zM377.1 346.1h5v5h-5zM567.1 346.1h5v5h-5zM587.1 346.1h5v5h-5zM302.1 351.1h5v5h-5zM417.1 351.1h5v5h-5zM437.1 351.1h5v5h-5zM562.1 351.1h5v5h-5zM592.1 351.1h5v5h-5zM302.1 356.1h5v5h-5zM382.1 356.1h5v5h-5zM417.1 356.1h5v5h-5zM447.1 356.1h15v5h-15zM302.1 361.1h5v5h-5zM377.1 361.1h15v5h-15zM307.1 366.1h5v5h-5zM372.1 366.1h5v5h-5zM392.1 366.1h5v5h-5zM412.1 366.1h5v5h-5zM592.1 366.1h5v5h-5zM312.1 371.1h5v5h-5zM362.1 371.1h10v5h-10zM317.1 376.1h15v5h-15zM347.1 376.1h15v5h-15zM562.1 376.1h5v5h-5zM587.1 381.1h5v5h-5zM567.1 386.1h5v5h-5z"/>
<path fill="#f6f6ff" d="M447.1 121.1h20v5h-20zM362.1 126.1h15v5h-15zM412.1 126.1h30v5h-30zM472.1 126.1h5v5h-5zM557.1 126.1h35v5h-35zM352.1 131.1h35v5h-35zM412.1 131.1h5v5h-5zM477.1 131.1h5v5h-5zM552.1 131.1h10v5h-10zM587.1 131.1h10v5h-10zM347.1 136.1h10v5h-10zM382.1 136.1h5v5h-5zM477.1 136.1h5v5h-5zM547.1 136.1h10v5h-10zM592.1 136.1h10v5h-10zM342.1 141.1h10v5h-10zM382.1 141.1h5v5h-5zM477.1 141.1h5v5h-5zM512.1 141.1h15v5h-15zM547.1 141.1h15v5h-15zM587.1 141.1h15v5h-15zM342.1 146.1h5v5h-5zM472.1 146.1h5v5h-5zM502.1 146.1h5v5h-5zM527.1 146.1h10v5h-10zM552.1 146.1h15v5h-15zM582.1 146.1h15v5h-15zM342.1 151.1h5v5h-5zM387.1 151.1h5v5h-5zM442.1 151.1h25v5h-25zM532.1 151.1h5v5h-5zM562.1 151.1h25v5h-25zM342.1 156.1h5v5h-5zM432.1 156.1h5v5h-5zM532.1 156.1h5v5h-5zM337.1 161.1h10v5h-10zM407.1 161.1h20v5h-20zM532.1 161.1h5v5h-5zM117.1 166.1h10v5h-10zM337.1 166.1h10v5h-10zM402.1 166.1h5v5h-5zM502.1 166.1h5v5h-5zM532.1 166.1h5v5h-5zM112.1 171.1h5v5h-5zM342.1 171.1h20v5h-20zM507.1 171.1h5v5h-5zM532.1 171.1h5v5h-5zM582.1 171.1h5v5h-5zM592.1 171.1h5v5h-5zM132.1 176.1h5v5h-5zM517.1 176.1h5v5h-5zM527.1 176.1h5v5h-5zM577.1 176.1h5v5h-5zM597.1 176.1h5v5h-5zM132.1 181.1h5v5h-5zM577.1 181.1h5v5h-5zM112.1 186.1h5v5h-5zM127.1 186.1h5v5h-5zM552.1 186.1h5v5h-5zM567.1 186.1h5v5h-5zM577.1 186.1h5v5h-5zM597.1 186.1h5v5h-5zM582.1 191.1h5v5h-5zM592.1 191.1h5v5h-5zM567.1 196.1h5v5h-5zM392.1 201.1h5v5h-5zM362.1 206.1h5v5h-5zM397.1 206.1h5v5h-5zM362.1 211.1h5v5h-5zM597.1 211.1h10v5h-10zM122.1 216.1h5v5h-5zM132.1 216.1h5v5h-5zM392.1 216.1h5v5h-5zM562.1 216.1h15v5h-15zM587.1 216.1h5v5h-5zM617.1 216.1h5v5h-5zM137.1 221.1h5v5h-5zM357.1 221.1h5v5h-5zM387.1 221.1h5v5h-5zM557.1 221.1h5v5h-5zM577.1 221.1h10v5h-10zM622.1 221.1h5v5h-5zM557.1 226.1h5v5h-5zM622.1 226.1h5v5h-5zM122.1 231.1h15v5h-15zM557.1 231.1h5v5h-5zM567.1 236.1h5v5h-5zM627.1 236.1h5v5h-5zM452.1 241.1h5v5h-5zM572.1 241.1h5v5h-5zM572.1 246.1h5v5h-5zM522.1 251.1h5v5h-5zM327.1 256.1h5v5h-5zM522.1 256.1h5v5h-5zM577.1 256.1h5v5h-5zM602.1 256.1h5v5h-5zM317.1 261.1h5v5h-5zM582.1 261.1h15v5h-15zM457.1 266.1h5v5h-5zM512.1 266.1h5v5h-5zM312.1 276.1h5v5h-5zM547.1 276.1h10v5h-10zM587.1 276.1h5v5h-5zM312.1 281.1h5v5h-5zM542.1 281.1h5v5h-5zM597.1 281.1h5v5h-5zM372.1 286.1h5v5h-5zM457.1 286.1h5v5h-5zM537.1 286.1h5v5h-5zM317.1 291.1h5v5h-5zM442.1 291.1h5v5h-5zM532.1 291.1h5v5h-5zM602.1 291.1h5v5h-5zM502.1 296.1h5v5h-5zM532.1 296.1h5v5h-5zM427.1 301.1h10v5h-10zM462.1 301.1h5v5h-5zM522.1 301.1h5v5h-5zM532.1 301.1h10v5h-10zM597.1 301.1h5v5h-5zM417.1 306.1h5v5h-5zM522.1 306.1h5v5h-5zM532.1 306.1h5v5h-5zM557.1 306.1h5v5h-5zM592.1 306.1h5v5h-5zM457.1 311.1h5v5h-5zM497.1 311.1h5v5h-5zM527.1 311.1h5v5h-5zM582.1 311.1h5v5h-5zM412.1 316.1h5v5h-5zM507.1 316.1h5v5h-5zM527.1 316.1h5v5h-5zM562.1 316.1h15v5h-15zM312.1 321.1h5v5h-5zM527.1 321.1h5v5h-5zM312.1 326.1h5v5h-5zM312.1 331.1h5v5h-5zM487.1 331.1h5v5h-5zM312.1 341.1h5v5h-5zM312.1 346.1h5v5h-5zM572.1 346.1h5v5h-5zM582.1 346.1h5v5h-5zM307.1 351.1h5v5h-5zM377.1 351.1h5v5h-5zM392.1 351.1h5v5h-5zM307.1 356.1h5v5h-5zM377.1 356.1h5v5h-5zM387.1 356.1h5v5h-5zM462.1 356.1h5v5h-5zM472.1 356.1h5v5h-5zM562.1 356.1h5v5h-5zM592.1 356.1h5v5h-5zM307.1 361.1h5v5h-5zM372.1 361.1h5v5h-5zM592.1 361.1h5v5h-5zM312.1 366.1h5v5h-5zM367.1 366.1h5v5h-5zM317.1 371.1h10v5h-10zM357.1 371.1h5v5h-5zM562.1 371.1h5v5h-5zM332.1 376.1h15v5h-15zM587.1 376.1h5v5h-5zM582.1 386.1h5v5h-5z"/>
<path fill="#f3f3ff" d="M442.1 126.1h30v5h-30zM417.1 131.1h5v5h-5zM427.1 131.1h15v5h-15zM467.1 131.1h10v5h-10zM562.1 131.1h25v5h-25zM357.1 136.1h25v5h-25zM472.1 136.1h5v5h-5zM557.1 136.1h35v5h-35zM352.1 141.1h15v5h-15zM377.1 141.1h5v5h-5zM417.1 141.1h5v5h-5zM472.1 141.1h5v5h-5zM562.1 141.1h25v5h-25zM347.1 146.1h10v5h-10zM382.1 146.1h5v5h-5zM462.1 146.1h10v5h-10zM507.1 146.1h10v5h-10zM522.1 146.1h5v5h-5zM567.1 146.1h15v5h-15zM347.1 151.1h5v5h-5zM437.1 151.1h5v5h-5zM502.1 151.1h5v5h-5zM527.1 151.1h5v5h-5zM347.1 156.1h5v5h-5zM397.1 156.1h5v5h-5zM412.1 156.1h5v5h-5zM427.1 156.1h5v5h-5zM502.1 156.1h5v5h-5zM347.1 161.1h5v5h-5zM402.1 161.1h5v5h-5zM502.1 161.1h5v5h-5zM347.1 166.1h10v5h-10zM117.1 171.1h5v5h-5zM127.1 171.1h5v5h-5zM362.1 171.1h10v5h-10zM397.1 171.1h5v5h-5zM527.1 171.1h5v5h-5zM587.1 171.1h5v5h-5zM112.1 176.1h5v5h-5zM127.1 176.1h5v5h-5zM522.1 176.1h5v5h-5zM582.1 176.1h5v5h-5zM112.1 181.1h5v5h-5zM127.1 181.1h5v5h-5zM597.1 181.1h5v5h-5zM117.1 186.1h10v5h-10zM557.1 186.1h10v5h-10zM582.1 186.1h5v5h-5zM552.1 191.1h5v5h-5zM567.1 191.1h5v5h-5zM587.1 191.1h5v5h-5zM552.1 196.1h5v5h-5zM557.1 201.1h10v5h-10zM127.1 216.1h5v5h-5zM417.1 216.1h5v5h-5zM592.1 216.1h10v5h-10zM607.1 216.1h10v5h-10zM122.1 221.1h5v5h-5zM362.1 221.1h5v5h-5zM562.1 221.1h15v5h-15zM587.1 221.1h5v5h-5zM617.1 221.1h5v5h-5zM122.1 226.1h5v5h-5zM132.1 226.1h5v5h-5zM352.1 226.1h5v5h-5zM412.1 226.1h5v5h-5zM562.1 226.1h5v5h-5zM572.1 226.1h10v5h-10zM347.1 231.1h5v5h-5zM407.1 231.1h5v5h-5zM562.1 231.1h15v5h-15zM622.1 231.1h5v5h-5zM572.1 236.1h5v5h-5zM337.1 241.1h5v5h-5zM627.1 241.1h5v5h-5zM452.1 246.1h5v5h-5zM627.1 246.1h5v5h-5zM452.1 251.1h5v5h-5zM502.1 251.1h5v5h-5zM577.1 251.1h5v5h-5zM607.1 251.1h5v5h-5zM622.1 251.1h5v5h-5zM452.1 256.1h5v5h-5zM597.1 256.1h5v5h-5zM452.1 261.1h5v5h-5zM492.1 261.1h5v5h-5zM457.1 271.1h5v5h-5zM457.1 276.1h5v5h-5zM557.1 276.1h5v5h-5zM372.1 281.1h5v5h-5zM457.1 281.1h5v5h-5zM547.1 281.1h5v5h-5zM452.1 286.1h5v5h-5zM542.1 286.1h5v5h-5zM597.1 286.1h5v5h-5zM537.1 291.1h5v5h-5zM437.1 296.1h5v5h-5zM537.1 296.1h5v5h-5zM422.1 301.1h5v5h-5zM472.1 301.1h5v5h-5zM307.1 306.1h5v5h-5zM317.1 306.1h5v5h-5zM517.1 311.1h5v5h-5zM562.1 311.1h5v5h-5zM577.1 311.1h5v5h-5zM297.1 316.1h5v5h-5zM312.1 316.1h5v5h-5zM457.1 316.1h5v5h-5zM402.1 321.1h5v5h-5zM547.1 321.1h5v5h-5zM532.1 326.1h5v5h-5zM377.1 331.1h5v5h-5zM482.1 336.1h5v5h-5zM412.1 346.1h5v5h-5zM437.1 346.1h5v5h-5zM577.1 346.1h5v5h-5zM312.1 351.1h5v5h-5zM442.1 351.1h5v5h-5zM477.1 351.1h5v5h-5zM567.1 351.1h5v5h-5zM587.1 351.1h5v5h-5zM312.1 356.1h5v5h-5zM372.1 356.1h5v5h-5zM467.1 356.1h5v5h-5zM312.1 361.1h5v5h-5zM367.1 361.1h5v5h-5zM562.1 361.1h5v5h-5zM317.1 366.1h5v5h-5zM362.1 366.1h5v5h-5zM397.1 366.1h5v5h-5zM407.1 366.1h5v5h-5zM562.1 366.1h5v5h-5zM327.1 371.1h10v5h-10zM347.1 371.1h10v5h-10zM567.1 381.1h5v5h-5zM572.1 386.1h10v5h-10z"/>
<path fill="#f0f0ff" d="M422.1 131.1h5v5h-5zM442.1 131.1h25v5h-25zM417.1 136.1h5v5h-5zM427.1 136.1h25v5h-25zM467.1 136.1h5v5h-5zM367.1 141.1h10v5h-10zM437.1 141.1h15v5h-15zM462.1 141.1h10v5h-10zM357.1 146.1h25v5h-25zM417.1 146.1h5v5h-5zM432.1 146.1h30v5h-30zM517.1 146.1h5v5h-5zM352.1 151.1h15v5h-15zM417.1 151.1h5v5h-5zM427.1 151.1h10v5h-10zM507.1 151.1h5v5h-5zM522.1 151.1h5v5h-5zM352.1 156.1h10v5h-10zM417.1 156.1h10v5h-10zM527.1 156.1h5v5h-5zM352.1 161.1h10v5h-10zM527.1 161.1h5v5h-5zM357.1 166.1h10v5h-10zM527.1 166.1h5v5h-5zM122.1 171.1h5v5h-5zM512.1 171.1h5v5h-5zM117.1 176.1h10v5h-10zM587.1 176.1h10v5h-10zM117.1 181.1h10v5h-10zM582.1 181.1h5v5h-5zM592.1 181.1h5v5h-5zM587.1 186.1h10v5h-10zM557.1 191.1h10v5h-10zM557.1 196.1h10v5h-10zM367.1 216.1h5v5h-5zM602.1 216.1h5v5h-5zM132.1 221.1h5v5h-5zM367.1 221.1h20v5h-20zM447.1 221.1h5v5h-5zM592.1 221.1h5v5h-5zM612.1 221.1h5v5h-5zM127.1 226.1h5v5h-5zM387.1 226.1h5v5h-5zM567.1 226.1h5v5h-5zM582.1 226.1h5v5h-5zM617.1 226.1h5v5h-5zM577.1 231.1h5v5h-5zM342.1 236.1h5v5h-5zM407.1 236.1h5v5h-5zM577.1 236.1h5v5h-5zM577.1 241.1h5v5h-5zM337.1 246.1h5v5h-5zM577.1 246.1h5v5h-5zM337.1 251.1h5v5h-5zM602.1 251.1h5v5h-5zM612.1 251.1h5v5h-5zM332.1 256.1h5v5h-5zM582.1 256.1h5v5h-5zM322.1 261.1h5v5h-5zM517.1 261.1h5v5h-5zM317.1 266.1h5v5h-5zM452.1 266.1h5v5h-5zM382.1 271.1h5v5h-5zM562.1 276.1h5v5h-5zM582.1 276.1h5v5h-5zM592.1 281.1h5v5h-5zM542.1 291.1h5v5h-5zM432.1 296.1h5v5h-5zM542.1 296.1h5v5h-5zM597.1 296.1h5v5h-5zM417.1 301.1h5v5h-5zM467.1 301.1h5v5h-5zM552.1 301.1h5v5h-5zM297.1 306.1h5v5h-5zM412.1 306.1h5v5h-5zM497.1 306.1h5v5h-5zM587.1 306.1h5v5h-5zM312.1 311.1h10v5h-10zM412.1 311.1h5v5h-5zM532.1 311.1h10v5h-10zM567.1 311.1h10v5h-10zM307.1 316.1h5v5h-5zM397.1 321.1h5v5h-5zM457.1 321.1h5v5h-5zM317.1 326.1h5v5h-5zM447.1 326.1h10v5h-10zM542.1 326.1h5v5h-5zM317.1 331.1h5v5h-5zM317.1 336.1h5v5h-5zM437.1 336.1h5v5h-5zM317.1 341.1h5v5h-5zM317.1 346.1h5v5h-5zM317.1 351.1h5v5h-5zM372.1 351.1h5v5h-5zM447.1 351.1h10v5h-10zM317.1 356.1h5v5h-5zM367.1 356.1h5v5h-5zM317.1 361.1h5v5h-5zM362.1 361.1h5v5h-5zM392.1 361.1h5v5h-5zM412.1 361.1h5v5h-5zM322.1 366.1h5v5h-5zM357.1 366.1h5v5h-5zM402.1 366.1h5v5h-5zM337.1 371.1h10v5h-10zM587.1 371.1h5v5h-5zM582.1 381.1h5v5h-5z"/>
<path fill="#ffeded" d="M392.1 136.1h5v5h-5zM452.1 166.1h5v5h-5zM622.1 166.1h5v5h-5zM492.1 171.1h5v5h-5zM307.1 181.1h5v5h-5zM417.1 181.1h5v5h-5zM432.1 181.1h5v5h-5zM502.1 181.1h5v5h-5zM617.1 181.1h5v5h-5zM307.1 186.1h5v5h-5zM347.1 186.1h5v5h-5zM617.1 186.1h5v5h-5zM302.1 191.1h5v5h-5zM347.1 191.1h5v5h-5zM422.1 191.1h5v5h-5zM517.1 191.1h10v5h-10zM357.1 196.1h10v5h-10zM537.1 196.1h5v5h-5zM457.1 206.1h5v5h-5zM472.1 206.1h5v5h-5zM472.1 211.1h5v5h-5zM542.1 211.1h5v5h-5zM517.1 216.1h10v5h-10zM512.1 221.1h5v5h-5zM532.1 221.1h5v5h-5zM312.1 226.1h5v5h-5zM337.1 226.1h10v5h-10zM512.1 226.1h5v5h-5zM492.1 241.1h5v5h-5zM522.1 241.1h5v5h-5zM492.1 246.1h5v5h-5zM142.1 266.1h5v5h-5zM612.1 266.1h5v5h-5zM482.1 271.1h5v5h-5zM497.1 276.1h10v5h-10zM287.1 281.1h5v5h-5zM502.1 281.1h10v5h-10zM297.1 286.1h5v5h-5zM472.1 286.1h5v5h-5zM292.1 291.1h5v5h-5zM482.1 301.1h5v5h-5zM492.1 301.1h5v5h-5zM297.1 336.1h5v5h-5zM397.1 336.1h5v5h-5zM547.1 336.1h5v5h-5zM547.1 346.1h5v5h-5z"/>
<path fill="#fff3f3" d="M397.1 136.1h10v5h-10zM387.1 141.1h5v5h-5zM332.1 146.1h5v5h-5zM327.1 151.1h5v5h-5zM402.1 151.1h5v5h-5zM622.1 156.1h5v5h-5zM617.1 166.1h5v5h-5zM302.1 171.1h5v5h-5zM437.1 171.1h5v5h-5zM622.1 171.1h5v5h-5zM297.1 176.1h5v5h-5zM422.1 176.1h5v5h-5zM432.1 176.1h5v5h-5zM497.1 176.1h5v5h-5zM627.1 176.1h5v5h-5zM397.1 181.1h5v5h-5zM427.1 181.1h5v5h-5zM507.1 181.1h5v5h-5zM642.1 186.1h5v5h-5zM307.1 191.1h5v5h-5zM642.1 191.1h5v5h-5zM317.1 196.1h5v5h-5zM352.1 196.1h5v5h-5zM367.1 196.1h5v5h-5zM387.1 196.1h5v5h-5zM632.1 201.1h5v5h-5zM307.1 206.1h5v5h-5zM477.1 206.1h10v5h-10zM337.1 216.1h10v5h-10zM492.1 216.1h5v5h-5zM312.1 221.1h10v5h-10zM517.1 221.1h5v5h-5zM527.1 221.1h5v5h-5zM317.1 226.1h5v5h-5zM497.1 226.1h5v5h-5zM502.1 231.1h5v5h-5zM527.1 231.1h5v5h-5zM402.1 241.1h5v5h-5zM457.1 241.1h5v5h-5zM467.1 246.1h5v5h-5zM137.1 261.1h5v5h-5zM147.1 266.1h5v5h-5zM257.1 266.1h5v5h-5zM477.1 271.1h5v5h-5zM512.1 271.1h5v5h-5zM472.1 281.1h5v5h-5zM522.1 281.1h5v5h-5zM502.1 286.1h5v5h-5zM287.1 291.1h5v5h-5zM392.1 291.1h5v5h-5zM502.1 291.1h5v5h-5zM307.1 296.1h10v5h-10zM447.1 296.1h10v5h-10zM472.1 296.1h5v5h-5zM432.1 316.1h5v5h-5zM437.1 321.1h5v5h-5zM397.1 331.1h5v5h-5zM397.1 341.1h5v5h-5zM552.1 341.1h5v5h-5zM392.1 346.1h5v5h-5zM597.1 401.1h5v5h-5z"/>
<path fill="#ededff" d="M422.1 136.1h5v5h-5zM452.1 136.1h15v5h-15zM422.1 141.1h15v5h-15zM452.1 141.1h10v5h-10zM422.1 146.1h10v5h-10zM367.1 151.1h10v5h-10zM422.1 151.1h5v5h-5zM512.1 151.1h10v5h-10zM362.1 156.1h10v5h-10zM507.1 156.1h5v5h-5zM362.1 161.1h10v5h-10zM507.1 161.1h5v5h-5zM367.1 166.1h5v5h-5zM397.1 166.1h5v5h-5zM507.1 166.1h5v5h-5zM372.1 171.1h5v5h-5zM517.1 171.1h10v5h-10zM587.1 181.1h5v5h-5zM422.1 216.1h5v5h-5zM432.1 216.1h10v5h-10zM127.1 221.1h5v5h-5zM417.1 221.1h5v5h-5zM597.1 221.1h5v5h-5zM607.1 221.1h5v5h-5zM447.1 226.1h5v5h-5zM587.1 226.1h5v5h-5zM582.1 231.1h5v5h-5zM617.1 231.1h5v5h-5zM397.1 246.1h5v5h-5zM617.1 251.1h5v5h-5zM337.1 256.1h5v5h-5zM587.1 256.1h10v5h-10zM567.1 276.1h15v5h-15zM552.1 281.1h5v5h-5zM447.1 286.1h5v5h-5zM547.1 286.1h5v5h-5zM597.1 291.1h5v5h-5zM382.1 296.1h5v5h-5zM422.1 296.1h10v5h-10zM517.1 296.1h5v5h-5zM592.1 301.1h5v5h-5zM302.1 306.1h5v5h-5zM462.1 306.1h5v5h-5zM482.1 306.1h5v5h-5zM297.1 311.1h5v5h-5zM487.1 311.1h5v5h-5zM302.1 316.1h5v5h-5zM317.1 316.1h5v5h-5zM407.1 316.1h5v5h-5zM317.1 321.1h5v5h-5zM392.1 321.1h5v5h-5zM457.1 326.1h5v5h-5zM487.1 326.1h5v5h-5zM537.1 326.1h5v5h-5zM437.1 341.1h5v5h-5zM412.1 351.1h5v5h-5zM457.1 351.1h5v5h-5zM582.1 351.1h5v5h-5zM587.1 356.1h5v5h-5zM322.1 361.1h5v5h-5zM327.1 366.1h5v5h-5zM352.1 366.1h5v5h-5zM587.1 366.1h5v5h-5zM567.1 376.1h5v5h-5z"/>
<path fill="#ffdede" d="M392.1 141.1h5v5h-5zM467.1 166.1h5v5h-5zM442.1 176.1h5v5h-5zM627.1 181.1h5v5h-5zM372.1 186.1h5v5h-5zM432.1 186.1h5v5h-5zM497.1 186.1h5v5h-5zM622.1 186.1h5v5h-5zM352.1 191.1h5v5h-5zM367.1 191.1h5v5h-5zM482.1 196.1h5v5h-5zM517.1 196.1h5v5h-5zM322.1 201.1h5v5h-5zM457.1 201.1h5v5h-5zM487.1 201.1h5v5h-5zM537.1 201.1h5v5h-5zM462.1 211.1h10v5h-10zM522.1 211.1h5v5h-5zM472.1 231.1h5v5h-5zM472.1 236.1h5v5h-5zM497.1 241.1h5v5h-5zM292.1 286.1h5v5h-5zM497.1 286.1h5v5h-5zM377.1 291.1h5v5h-5zM392.1 341.1h5v5h-5zM602.1 396.1h5v5h-5z"/>
<path fill="#ffe4e4" d="M397.1 141.1h5v5h-5zM392.1 146.1h5v5h-5zM462.1 166.1h5v5h-5zM482.1 166.1h5v5h-5zM407.1 176.1h5v5h-5zM492.1 176.1h5v5h-5zM357.1 181.1h10v5h-10zM377.1 181.1h5v5h-5zM622.1 181.1h5v5h-5zM302.1 186.1h5v5h-5zM512.1 191.1h5v5h-5zM627.1 196.1h5v5h-5zM472.1 201.1h5v5h-5zM462.1 206.1h10v5h-10zM317.1 216.1h5v5h-5zM527.1 216.1h5v5h-5zM502.1 221.1h5v5h-5zM472.1 226.1h5v5h-5zM457.1 231.1h5v5h-5zM402.1 236.1h5v5h-5zM507.1 241.1h5v5h-5zM377.1 276.1h5v5h-5zM517.1 276.1h5v5h-5zM497.1 296.1h5v5h-5zM427.1 321.1h5v5h-5zM427.1 326.1h10v5h-10zM392.1 331.1h5v5h-5zM382.1 336.1h5v5h-5z"/>
<path fill="#ffe1e1" d="M402.1 141.1h5v5h-5zM402.1 146.1h5v5h-5zM447.1 171.1h5v5h-5zM302.1 181.1h5v5h-5zM392.1 181.1h5v5h-5zM437.1 181.1h5v5h-5zM492.1 181.1h5v5h-5zM502.1 186.1h5v5h-5zM637.1 196.1h5v5h-5zM442.1 201.1h5v5h-5zM492.1 211.1h5v5h-5zM517.1 211.1h5v5h-5zM512.1 216.1h5v5h-5zM537.1 216.1h5v5h-5zM502.1 241.1h5v5h-5zM497.1 246.1h5v5h-5zM512.1 276.1h5v5h-5zM477.1 281.1h5v5h-5zM432.1 321.1h5v5h-5zM387.1 331.1h5v5h-5zM542.1 336.1h5v5h-5zM542.1 346.1h5v5h-5z"/>
<path fill="#ffe7e7" d="M407.1 141.1h5v5h-5zM397.1 146.1h5v5h-5zM407.1 146.1h5v5h-5zM457.1 166.1h5v5h-5zM417.1 171.1h5v5h-5zM412.1 181.1h5v5h-5zM507.1 186.1h5v5h-5zM372.1 191.1h5v5h-5zM422.1 196.1h5v5h-5zM312.1 201.1h5v5h-5zM452.1 201.1h5v5h-5zM482.1 201.1h5v5h-5zM327.1 206.1h5v5h-5zM427.1 206.1h5v5h-5zM437.1 206.1h5v5h-5zM487.1 206.1h5v5h-5zM337.1 221.1h10v5h-10zM457.1 221.1h5v5h-5zM472.1 221.1h5v5h-5zM507.1 221.1h5v5h-5zM457.1 226.1h5v5h-5zM457.1 236.1h5v5h-5zM502.1 246.1h5v5h-5zM477.1 276.1h5v5h-5zM492.1 276.1h5v5h-5zM292.1 281.1h5v5h-5zM497.1 281.1h5v5h-5zM512.1 281.1h10v5h-10zM287.1 286.1h5v5h-5zM487.1 301.1h5v5h-5zM537.1 336.1h5v5h-5zM382.1 341.1h5v5h-5zM537.1 346.1h5v5h-5zM602.1 401.1h5v5h-5z"/>
<path fill="#fff0f0" d="M327.1 146.1h5v5h-5zM617.1 161.1h5v5h-5zM627.1 161.1h5v5h-5zM447.1 166.1h5v5h-5zM487.1 166.1h5v5h-5zM627.1 166.1h5v5h-5zM307.1 176.1h5v5h-5zM622.1 176.1h5v5h-5zM297.1 181.1h5v5h-5zM372.1 181.1h5v5h-5zM407.1 181.1h5v5h-5zM297.1 186.1h5v5h-5zM512.1 186.1h5v5h-5zM397.1 191.1h5v5h-5zM532.1 191.1h5v5h-5zM327.1 201.1h5v5h-5zM542.1 206.1h5v5h-5zM457.1 211.1h5v5h-5zM312.1 216.1h5v5h-5zM542.1 216.1h5v5h-5zM537.1 221.1h5v5h-5zM502.1 226.1h10v5h-10zM517.1 226.1h5v5h-5zM312.1 231.1h5v5h-5zM502.1 236.1h5v5h-5zM527.1 236.1h5v5h-5zM472.1 241.1h5v5h-5zM147.1 261.1h5v5h-5zM617.1 266.1h5v5h-5zM487.1 271.1h5v5h-5zM517.1 271.1h5v5h-5zM522.1 276.1h5v5h-5zM297.1 281.1h5v5h-5zM297.1 331.1h5v5h-5zM382.1 331.1h5v5h-5zM387.1 346.1h5v5h-5zM597.1 396.1h5v5h-5z"/>
<path fill="#eaeaff" d="M377.1 151.1h5v5h-5zM372.1 156.1h5v5h-5zM522.1 156.1h5v5h-5zM397.1 161.1h5v5h-5zM522.1 161.1h5v5h-5zM512.1 166.1h5v5h-5zM522.1 166.1h5v5h-5zM392.1 171.1h5v5h-5zM372.1 201.1h5v5h-5zM387.1 201.1h5v5h-5zM442.1 211.1h5v5h-5zM427.1 216.1h5v5h-5zM447.1 216.1h5v5h-5zM482.1 221.1h10v5h-10zM602.1 221.1h5v5h-5zM592.1 226.1h5v5h-5zM612.1 226.1h5v5h-5zM447.1 231.1h5v5h-5zM587.1 231.1h5v5h-5zM582.1 236.1h5v5h-5zM622.1 236.1h5v5h-5zM602.1 246.1h10v5h-10zM517.1 251.1h5v5h-5zM582.1 251.1h5v5h-5zM597.1 251.1h5v5h-5zM447.1 256.1h5v5h-5zM497.1 256.1h5v5h-5zM447.1 261.1h5v5h-5zM317.1 271.1h5v5h-5zM452.1 271.1h5v5h-5zM452.1 281.1h5v5h-5zM557.1 281.1h5v5h-5zM317.1 286.1h5v5h-5zM547.1 291.1h5v5h-5zM417.1 296.1h5v5h-5zM547.1 296.1h5v5h-5zM322.1 301.1h5v5h-5zM412.1 301.1h5v5h-5zM582.1 306.1h5v5h-5zM307.1 311.1h5v5h-5zM372.1 311.1h5v5h-5zM377.1 316.1h5v5h-5zM542.1 316.1h5v5h-5zM322.1 341.1h5v5h-5zM477.1 341.1h5v5h-5zM322.1 346.1h5v5h-5zM372.1 346.1h5v5h-5zM407.1 346.1h5v5h-5zM477.1 346.1h5v5h-5zM322.1 351.1h5v5h-5zM367.1 351.1h5v5h-5zM572.1 351.1h5v5h-5zM322.1 356.1h5v5h-5zM362.1 356.1h5v5h-5zM392.1 356.1h5v5h-5zM412.1 356.1h5v5h-5zM567.1 356.1h5v5h-5zM357.1 361.1h5v5h-5zM587.1 361.1h5v5h-5zM332.1 366.1h20v5h-20zM572.1 381.1h5v5h-5z"/>
<path fill="#e7e7ff" d="M382.1 151.1h5v5h-5zM392.1 156.1h5v5h-5zM512.1 156.1h10v5h-10zM372.1 161.1h5v5h-5zM512.1 161.1h10v5h-10zM372.1 166.1h5v5h-5zM517.1 166.1h5v5h-5zM377.1 171.1h5v5h-5zM372.1 216.1h5v5h-5zM387.1 216.1h5v5h-5zM442.1 216.1h5v5h-5zM442.1 221.1h5v5h-5zM357.1 226.1h5v5h-5zM597.1 226.1h5v5h-5zM607.1 226.1h5v5h-5zM412.1 231.1h5v5h-5zM612.1 231.1h5v5h-5zM447.1 236.1h5v5h-5zM582.1 241.1h5v5h-5zM447.1 246.1h5v5h-5zM582.1 246.1h5v5h-5zM447.1 251.1h5v5h-5zM507.1 251.1h5v5h-5zM592.1 251.1h5v5h-5zM447.1 266.1h5v5h-5zM387.1 271.1h5v5h-5zM317.1 276.1h5v5h-5zM452.1 276.1h5v5h-5zM317.1 281.1h5v5h-5zM587.1 281.1h5v5h-5zM552.1 286.1h5v5h-5zM437.1 291.1h5v5h-5zM322.1 296.1h5v5h-5zM322.1 306.1h5v5h-5zM517.1 306.1h5v5h-5zM562.1 306.1h5v5h-5zM577.1 306.1h5v5h-5zM502.1 311.1h5v5h-5zM487.1 316.1h5v5h-5zM532.1 316.1h5v5h-5zM387.1 321.1h5v5h-5zM487.1 321.1h5v5h-5zM532.1 321.1h5v5h-5zM442.1 331.1h5v5h-5zM457.1 331.1h5v5h-5zM482.1 331.1h5v5h-5zM322.1 336.1h5v5h-5zM477.1 336.1h5v5h-5zM402.1 346.1h5v5h-5zM442.1 346.1h5v5h-5zM577.1 351.1h5v5h-5zM327.1 361.1h5v5h-5zM352.1 361.1h5v5h-5zM567.1 371.1h5v5h-5zM582.1 376.1h5v5h-5zM577.1 381.1h5v5h-5z"/>
<path fill="#e1e1ff" d="M377.1 156.1h5v5h-5zM382.1 171.1h5v5h-5zM367.1 206.1h5v5h-5zM367.1 211.1h5v5h-5zM447.1 211.1h5v5h-5zM422.1 221.1h5v5h-5zM437.1 221.1h5v5h-5zM417.1 226.1h5v5h-5zM442.1 226.1h5v5h-5zM597.1 231.1h10v5h-10zM412.1 236.1h5v5h-5zM592.1 236.1h10v5h-10zM612.1 236.1h10v5h-10zM587.1 241.1h5v5h-5zM597.1 241.1h5v5h-5zM622.1 241.1h5v5h-5zM587.1 246.1h10v5h-10zM612.1 246.1h5v5h-5zM512.1 251.1h5v5h-5zM402.1 256.1h5v5h-5zM442.1 256.1h5v5h-5zM332.1 261.1h15v5h-15zM442.1 261.1h5v5h-5zM507.1 266.1h5v5h-5zM447.1 271.1h5v5h-5zM562.1 281.1h5v5h-5zM442.1 286.1h5v5h-5zM417.1 291.1h5v5h-5zM552.1 291.1h5v5h-5zM387.1 296.1h5v5h-5zM552.1 296.1h5v5h-5zM557.1 301.1h5v5h-5zM587.1 301.1h5v5h-5zM407.1 306.1h5v5h-5zM407.1 311.1h5v5h-5zM462.1 311.1h5v5h-5zM382.1 321.1h5v5h-5zM377.1 326.1h5v5h-5zM462.1 326.1h5v5h-5zM452.1 331.1h5v5h-5zM327.1 341.1h5v5h-5zM367.1 346.1h5v5h-5zM462.1 351.1h5v5h-5zM472.1 351.1h5v5h-5zM332.1 356.1h5v5h-5zM352.1 356.1h5v5h-5zM582.1 356.1h5v5h-5zM397.1 361.1h5v5h-5zM407.1 361.1h5v5h-5z"/>
<path fill="#d8d8ff" d="M382.1 156.1h5v5h-5zM377.1 161.1h5v5h-5zM367.1 226.1h10v5h-10zM437.1 226.1h5v5h-5zM417.1 231.1h5v5h-5zM392.1 246.1h5v5h-5zM412.1 246.1h5v5h-5zM442.1 246.1h5v5h-5zM392.1 256.1h5v5h-5zM387.1 261.1h5v5h-5zM397.1 261.1h5v5h-5zM357.1 266.1h5v5h-5zM442.1 271.1h5v5h-5zM442.1 281.1h5v5h-5zM577.1 281.1h5v5h-5zM417.1 286.1h5v5h-5zM427.1 286.1h10v5h-10zM512.1 296.1h5v5h-5zM562.1 301.1h5v5h-5zM467.1 306.1h5v5h-5zM327.1 311.1h5v5h-5zM482.1 326.1h5v5h-5zM327.1 331.1h5v5h-5zM477.1 331.1h5v5h-5zM467.1 336.1h5v5h-5zM332.1 341.1h5v5h-5zM367.1 341.1h5v5h-5zM457.1 341.1h5v5h-5zM342.1 351.1h10v5h-10zM407.1 351.1h5v5h-5zM577.1 356.1h5v5h-5zM402.1 361.1h5v5h-5zM582.1 361.1h5v5h-5zM582.1 366.1h5v5h-5zM577.1 376.1h5v5h-5z"/>
<path fill="#dbdbff" d="M387.1 156.1h5v5h-5zM392.1 161.1h5v5h-5zM377.1 166.1h5v5h-5zM377.1 216.1h5v5h-5zM377.1 226.1h5v5h-5zM442.1 231.1h5v5h-5zM347.1 236.1h5v5h-5zM412.1 241.1h5v5h-5zM612.1 241.1h5v5h-5zM402.1 246.1h10v5h-10zM617.1 246.1h5v5h-5zM402.1 251.1h5v5h-5zM442.1 251.1h5v5h-5zM407.1 256.1h5v5h-5zM502.1 256.1h5v5h-5zM392.1 261.1h5v5h-5zM347.1 266.1h10v5h-10zM567.1 281.1h5v5h-5zM422.1 286.1h5v5h-5zM437.1 286.1h5v5h-5zM557.1 286.1h5v5h-5zM412.1 291.1h5v5h-5zM407.1 296.1h5v5h-5zM327.1 301.1h5v5h-5zM327.1 306.1h5v5h-5zM462.1 316.1h5v5h-5zM377.1 321.1h5v5h-5zM462.1 321.1h5v5h-5zM467.1 331.1h5v5h-5zM442.1 336.1h5v5h-5zM457.1 336.1h5v5h-5zM472.1 336.1h5v5h-5zM442.1 341.1h5v5h-5zM332.1 346.1h5v5h-5zM362.1 346.1h5v5h-5zM337.1 351.1h5v5h-5zM352.1 351.1h5v5h-5zM572.1 356.1h5v5h-5zM572.1 376.1h5v5h-5z"/>
<path fill="#c9c9ff" d="M382.1 161.1h10v5h-10zM357.1 231.1h5v5h-5zM347.1 241.1h5v5h-5zM437.1 246.1h5v5h-5zM362.1 261.1h15v5h-15zM502.1 261.1h5v5h-5zM337.1 266.1h5v5h-5zM392.1 266.1h5v5h-5zM322.1 276.1h5v5h-5zM352.1 276.1h5v5h-5zM432.1 276.1h5v5h-5zM322.1 281.1h5v5h-5zM397.1 291.1h5v5h-5zM372.1 306.1h5v5h-5zM402.1 306.1h5v5h-5zM367.1 311.1h5v5h-5zM382.1 316.1h5v5h-5zM482.1 321.1h5v5h-5zM467.1 326.1h5v5h-5zM357.1 341.1h5v5h-5zM462.1 346.1h5v5h-5zM577.1 366.1h5v5h-5z"/>
<path fill="#ffeaea" d="M622.1 161.1h5v5h-5zM407.1 171.1h5v5h-5zM442.1 171.1h5v5h-5zM302.1 176.1h5v5h-5zM437.1 176.1h5v5h-5zM352.1 181.1h5v5h-5zM367.1 181.1h5v5h-5zM497.1 181.1h5v5h-5zM637.1 181.1h5v5h-5zM397.1 186.1h5v5h-5zM427.1 186.1h5v5h-5zM527.1 191.1h5v5h-5zM622.1 191.1h5v5h-5zM422.1 201.1h5v5h-5zM447.1 201.1h5v5h-5zM477.1 201.1h5v5h-5zM327.1 211.1h5v5h-5zM322.1 216.1h5v5h-5zM402.1 216.1h10v5h-10zM457.1 216.1h5v5h-5zM472.1 216.1h5v5h-5zM402.1 221.1h10v5h-10zM497.1 221.1h5v5h-5zM142.1 261.1h5v5h-5zM507.1 276.1h5v5h-5zM472.1 291.1h5v5h-5zM532.1 341.1h5v5h-5zM602.1 391.1h5v5h-5z"/>
<path fill="#cfcfff" d="M382.1 166.1h10v5h-10zM427.1 226.1h10v5h-10zM417.1 241.1h5v5h-5zM417.1 246.1h5v5h-5zM397.1 251.1h5v5h-5zM437.1 251.1h5v5h-5zM387.1 256.1h5v5h-5zM377.1 261.1h5v5h-5zM367.1 266.1h5v5h-5zM387.1 266.1h5v5h-5zM322.1 271.1h5v5h-5zM347.1 271.1h5v5h-5zM372.1 276.1h5v5h-5zM437.1 276.1h5v5h-5zM417.1 281.1h20v5h-20zM412.1 286.1h5v5h-5zM372.1 291.1h5v5h-5zM407.1 291.1h5v5h-5zM402.1 296.1h5v5h-5zM507.1 296.1h5v5h-5zM567.1 301.1h5v5h-5zM577.1 301.1h5v5h-5zM372.1 326.1h5v5h-5zM332.1 336.1h5v5h-5zM367.1 336.1h5v5h-5zM447.1 336.1h5v5h-5zM337.1 341.1h5v5h-5zM362.1 341.1h5v5h-5zM447.1 341.1h5v5h-5zM472.1 341.1h5v5h-5zM347.1 346.1h5v5h-5zM402.1 351.1h5v5h-5z"/>
<path fill="#dedeff" d="M392.1 166.1h5v5h-5zM377.1 201.1h10v5h-10zM382.1 216.1h5v5h-5zM482.1 216.1h10v5h-10zM427.1 221.1h10v5h-10zM362.1 226.1h5v5h-5zM352.1 231.1h5v5h-5zM592.1 241.1h5v5h-5zM342.1 246.1h5v5h-5zM342.1 251.1h5v5h-5zM407.1 251.1h5v5h-5zM397.1 256.1h5v5h-5zM347.1 261.1h5v5h-5zM497.1 261.1h5v5h-5zM512.1 261.1h5v5h-5zM322.1 266.1h5v5h-5zM442.1 266.1h5v5h-5zM447.1 276.1h5v5h-5zM447.1 281.1h5v5h-5zM582.1 281.1h5v5h-5zM322.1 291.1h5v5h-5zM592.1 291.1h5v5h-5zM507.1 311.1h5v5h-5zM402.1 316.1h5v5h-5zM537.1 316.1h5v5h-5zM537.1 321.1h5v5h-5zM447.1 331.1h5v5h-5zM327.1 336.1h5v5h-5zM372.1 336.1h5v5h-5zM462.1 336.1h5v5h-5zM447.1 346.1h15v5h-15zM332.1 351.1h5v5h-5zM357.1 351.1h5v5h-5zM397.1 351.1h5v5h-5zM337.1 356.1h15v5h-15zM582.1 371.1h5v5h-5z"/>
<path fill="#ffd8d8" d="M472.1 166.1h10v5h-10zM412.1 171.1h5v5h-5zM487.1 171.1h5v5h-5zM632.1 181.1h5v5h-5zM367.1 186.1h5v5h-5zM437.1 186.1h5v5h-5zM392.1 191.1h5v5h-5zM487.1 191.1h5v5h-5zM317.1 201.1h5v5h-5zM462.1 201.1h5v5h-5zM312.1 206.1h5v5h-5zM537.1 206.1h5v5h-5zM522.1 231.1h5v5h-5zM467.1 241.1h5v5h-5z"/>
<path fill="#e4e4ff" d="M387.1 171.1h5v5h-5zM392.1 206.1h5v5h-5zM392.1 211.1h5v5h-5zM382.1 226.1h5v5h-5zM602.1 226.1h5v5h-5zM592.1 231.1h5v5h-5zM607.1 231.1h5v5h-5zM587.1 236.1h5v5h-5zM602.1 236.1h10v5h-10zM342.1 241.1h5v5h-5zM407.1 241.1h5v5h-5zM447.1 241.1h5v5h-5zM602.1 241.1h10v5h-10zM597.1 246.1h5v5h-5zM622.1 246.1h5v5h-5zM587.1 251.1h5v5h-5zM342.1 256.1h5v5h-5zM517.1 256.1h5v5h-5zM327.1 261.1h5v5h-5zM497.1 266.1h5v5h-5zM592.1 286.1h5v5h-5zM422.1 291.1h15v5h-15zM412.1 296.1h5v5h-5zM592.1 296.1h5v5h-5zM407.1 301.1h5v5h-5zM517.1 301.1h5v5h-5zM567.1 306.1h10v5h-10zM302.1 311.1h5v5h-5zM322.1 311.1h5v5h-5zM512.1 311.1h5v5h-5zM322.1 316.1h5v5h-5zM322.1 321.1h5v5h-5zM542.1 321.1h5v5h-5zM322.1 326.1h5v5h-5zM322.1 331.1h5v5h-5zM462.1 331.1h5v5h-5zM372.1 341.1h5v5h-5zM327.1 346.1h5v5h-5zM327.1 351.1h5v5h-5zM362.1 351.1h5v5h-5zM327.1 356.1h5v5h-5zM357.1 356.1h5v5h-5zM332.1 361.1h20v5h-20zM567.1 361.1h5v5h-5zM567.1 366.1h5v5h-5z"/>
<path fill="#ffdbdb" d="M452.1 171.1h5v5h-5zM417.1 176.1h5v5h-5zM352.1 186.1h5v5h-5zM492.1 186.1h5v5h-5zM377.1 191.1h5v5h-5zM477.1 196.1h5v5h-5zM487.1 196.1h5v5h-5zM467.1 201.1h5v5h-5zM432.1 206.1h5v5h-5zM312.1 211.1h5v5h-5zM537.1 211.1h5v5h-5zM497.1 216.1h5v5h-5zM532.1 216.1h5v5h-5zM507.1 231.1h5v5h-5zM462.1 241.1h5v5h-5zM512.1 241.1h10v5h-10zM482.1 276.1h10v5h-10zM492.1 281.1h5v5h-5zM477.1 296.1h5v5h-5z"/>
<path fill="#ffd2d2" d="M457.1 171.1h5v5h-5zM447.1 176.1h5v5h-5zM382.1 181.1h5v5h-5zM357.1 191.1h10v5h-10zM482.1 191.1h5v5h-5zM532.1 196.1h5v5h-5zM517.1 201.1h5v5h-5zM492.1 206.1h5v5h-5zM502.1 216.1h5v5h-5zM397.1 231.1h5v5h-5zM477.1 286.1h5v5h-5z"/>
<path fill="#ffc6c6" d="M462.1 171.1h5v5h-5zM452.1 176.1h5v5h-5zM487.1 176.1h5v5h-5zM392.1 186.1h5v5h-5zM482.1 186.1h5v5h-5zM627.1 186.1h5v5h-5zM437.1 191.1h10v5h-10zM637.1 191.1h5v5h-5zM507.1 196.1h5v5h-5zM437.1 201.1h5v5h-5zM522.1 206.1h5v5h-5zM507.1 211.1h5v5h-5zM462.1 226.1h10v5h-10zM522.1 236.1h5v5h-5zM477.1 291.1h5v5h-5z"/>
<path fill="#ffb1b1" d="M467.1 171.1h5v5h-5zM482.1 171.1h5v5h-5zM632.1 186.1h5v5h-5zM462.1 231.1h5v5h-5zM487.1 296.1h5v5h-5z"/>
<path fill="#ff9696" d="M472.1 171.1h5v5h-5zM457.1 181.1h5v5h-5zM512.1 236.1h5v5h-5z"/>
<path fill="#ff9393" d="M477.1 171.1h5v5h-5zM482.1 176.1h5v5h-5zM467.1 191.1h5v5h-5z"/>
<path fill="#ffcccc" d="M412.1 176.1h5v5h-5zM487.1 181.1h5v5h-5zM357.1 186.1h10v5h-10zM377.1 186.1h5v5h-5zM442.1 186.1h5v5h-5zM637.1 186.1h5v5h-5zM512.1 201.1h5v5h-5zM512.1 206.1h5v5h-5zM322.1 211.1h5v5h-5zM532.1 211.1h5v5h-5zM507.1 236.1h5v5h-5zM487.1 281.1h5v5h-5zM387.1 336.1h5v5h-5zM537.1 341.1h5v5h-5z"/>
<path fill="#ffbaba" d="M457.1 176.1h5v5h-5zM452.1 196.1h5v5h-5zM497.1 201.1h5v5h-5zM507.1 201.1h5v5h-5zM522.1 201.1h5v5h-5zM317.1 206.1h5v5h-5zM507.1 206.1h5v5h-5zM532.1 206.1h5v5h-5zM512.1 231.1h5v5h-5zM392.1 241.1h5v5h-5z"/>
<path fill="#ffabab" d="M462.1 176.1h5v5h-5zM482.1 181.1h5v5h-5zM382.1 186.1h5v5h-5zM467.1 236.1h5v5h-5zM487.1 286.1h5v5h-5zM387.1 291.1h5v5h-5zM492.1 291.1h5v5h-5z"/>
<path fill="#ff9090" d="M467.1 176.1h5v5h-5zM462.1 181.1h5v5h-5zM477.1 181.1h5v5h-5zM517.1 236.1h5v5h-5zM487.1 291.1h5v5h-5z"/>
<path fill="#ff6f6f" d="M472.1 176.1h5v5h-5z"/>
<path fill="#ff6969" d="M477.1 176.1h5v5h-5z"/>
<path fill="#ffcfcf" d="M387.1 181.1h5v5h-5zM497.1 191.1h10v5h-10zM442.1 196.1h10v5h-10zM472.1 196.1h5v5h-5zM492.1 196.1h5v5h-5zM522.1 196.1h5v5h-5zM632.1 196.1h5v5h-5zM492.1 201.1h5v5h-5zM527.1 211.1h5v5h-5zM462.1 221.1h10v5h-10zM482.1 281.1h5v5h-5z"/>
<path fill="#ffd5d5" d="M442.1 181.1h5v5h-5zM487.1 186.1h5v5h-5zM427.1 191.1h5v5h-5zM492.1 191.1h5v5h-5zM507.1 191.1h5v5h-5zM512.1 196.1h5v5h-5zM517.1 206.1h5v5h-5zM512.1 211.1h5v5h-5zM462.1 216.1h10v5h-10zM507.1 216.1h5v5h-5zM392.1 231.1h5v5h-5zM497.1 291.1h5v5h-5zM392.1 336.1h5v5h-5zM387.1 341.1h5v5h-5zM547.1 341.1h5v5h-5z"/>
<path fill="#ffc0c0" d="M447.1 181.1h5v5h-5zM467.1 196.1h5v5h-5zM527.1 196.1h5v5h-5zM502.1 211.1h5v5h-5zM492.1 286.1h5v5h-5z"/>
<path fill="#ffa8a8" d="M452.1 181.1h5v5h-5zM632.1 191.1h5v5h-5zM432.1 196.1h5v5h-5zM457.1 196.1h5v5h-5z"/>
<path fill="#ff8d8d" d="M467.1 181.1h5v5h-5zM392.1 236.1h5v5h-5zM377.1 281.1h5v5h-5z"/>
<path fill="#ff8787" d="M472.1 181.1h5v5h-5zM467.1 186.1h5v5h-5zM397.1 236.1h5v5h-5z"/>
<path fill="#ffa5a5" d="M387.1 186.1h5v5h-5z"/>
<path fill="#ffaeae" d="M447.1 186.1h5v5h-5zM447.1 191.1h5v5h-5zM462.1 196.1h5v5h-5zM527.1 206.1h5v5h-5zM467.1 231.1h5v5h-5zM462.1 236.1h5v5h-5z"/>
<path fill="#ff7e7e" d="M452.1 186.1h5v5h-5z"/>
<path fill="#ff5d5d" d="M457.1 186.1h5v5h-5zM457.1 191.1h5v5h-5z"/>
<path fill="#ff6666" d="M462.1 186.1h5v5h-5z"/>
<path fill="#ffa2a2" d="M472.1 186.1h5v5h-5zM527.1 201.1h5v5h-5zM382.1 276.1h5v5h-5z"/>
<path fill="#ffb7b7" d="M477.1 186.1h5v5h-5zM472.1 191.1h5v5h-5zM437.1 196.1h5v5h-5zM532.1 201.1h5v5h-5zM517.1 231.1h5v5h-5z"/>
<path fill="#ffc9c9" d="M382.1 191.1h5v5h-5zM477.1 191.1h5v5h-5zM627.1 191.1h5v5h-5zM427.1 201.1h5v5h-5zM497.1 211.1h5v5h-5z"/>
<path fill="#ffc3c3" d="M387.1 191.1h5v5h-5zM432.1 191.1h5v5h-5zM427.1 196.1h5v5h-5zM497.1 196.1h5v5h-5zM322.1 206.1h5v5h-5zM317.1 211.1h5v5h-5zM392.1 281.1h5v5h-5zM492.1 296.1h5v5h-5z"/>
<path fill="#ff8181" d="M452.1 191.1h5v5h-5z"/>
<path fill="#ff6c6c" d="M462.1 191.1h5v5h-5z"/>
<path fill="#ffbdbd" d="M502.1 196.1h5v5h-5zM497.1 206.1h5v5h-5zM392.1 286.1h5v5h-5zM482.1 296.1h5v5h-5zM542.1 341.1h5v5h-5z"/>
<path fill="#ffb4b4" d="M432.1 201.1h5v5h-5zM502.1 201.1h5v5h-5zM502.1 206.1h5v5h-5zM397.1 241.1h5v5h-5zM387.1 276.1h5v5h-5zM482.1 286.1h5v5h-5z"/>
<path fill="#c3c3ff" d="M372.1 206.1h5v5h-5zM387.1 206.1h5v5h-5zM372.1 211.1h5v5h-5zM382.1 231.1h5v5h-5zM422.1 241.1h5v5h-5zM347.1 251.1h5v5h-5zM417.1 251.1h5v5h-5zM432.1 251.1h5v5h-5zM412.1 256.1h5v5h-5zM432.1 256.1h5v5h-5zM432.1 261.1h5v5h-5zM332.1 266.1h5v5h-5zM432.1 266.1h5v5h-5zM367.1 271.1h10v5h-10zM392.1 271.1h5v5h-5zM427.1 276.1h5v5h-5zM397.1 281.1h5v5h-5zM582.1 286.1h5v5h-5zM397.1 296.1h5v5h-5zM367.1 301.1h10v5h-10zM512.1 306.1h5v5h-5zM402.1 311.1h5v5h-5zM467.1 311.1h5v5h-5zM332.1 316.1h5v5h-5zM367.1 331.1h5v5h-5zM337.1 336.1h5v5h-5zM362.1 336.1h5v5h-5zM347.1 341.1h10v5h-10z"/>
<path fill="#a5a5ff" d="M377.1 206.1h5v5h-5zM372.1 231.1h5v5h-5zM362.1 256.1h5v5h-5zM417.1 256.1h5v5h-5zM332.1 271.1h5v5h-5zM347.1 286.1h5v5h-5zM337.1 291.1h10v5h-10zM572.1 291.1h5v5h-5zM507.1 301.1h5v5h-5zM347.1 311.1h10v5h-10zM357.1 316.1h5v5h-5zM477.1 316.1h5v5h-5z"/>
<path fill="#a8a8ff" d="M382.1 206.1h5v5h-5zM377.1 211.1h10v5h-10zM367.1 231.1h5v5h-5zM367.1 256.1h5v5h-5zM427.1 266.1h5v5h-5zM327.1 276.1h5v5h-5zM327.1 281.1h5v5h-5zM577.1 291.1h5v5h-5zM382.1 306.1h5v5h-5zM382.1 311.1h5v5h-5zM477.1 321.1h5v5h-5zM342.1 331.1h5v5h-5z"/>
<path fill="#c6c6ff" d="M387.1 211.1h5v5h-5zM427.1 231.1h10v5h-10zM422.1 236.1h5v5h-5zM437.1 236.1h5v5h-5zM437.1 241.1h5v5h-5zM382.1 256.1h5v5h-5zM407.1 261.1h5v5h-5zM432.1 271.1h5v5h-5zM357.1 276.1h5v5h-5zM327.1 291.1h5v5h-5zM402.1 291.1h5v5h-5zM332.1 296.1h5v5h-5zM392.1 296.1h5v5h-5zM562.1 296.1h5v5h-5zM367.1 306.1h5v5h-5zM332.1 311.1h5v5h-5zM367.1 316.1h5v5h-5zM482.1 316.1h5v5h-5zM332.1 331.1h5v5h-5zM342.1 341.1h5v5h-5zM402.1 356.1h5v5h-5z"/>
<path fill="#d5d5ff" d="M422.1 226.1h5v5h-5zM442.1 236.1h5v5h-5zM387.1 241.1h5v5h-5zM442.1 241.1h5v5h-5zM617.1 241.1h5v5h-5zM412.1 251.1h5v5h-5zM437.1 256.1h5v5h-5zM512.1 256.1h5v5h-5zM352.1 261.1h5v5h-5zM437.1 261.1h5v5h-5zM342.1 266.1h5v5h-5zM437.1 266.1h5v5h-5zM502.1 266.1h5v5h-5zM352.1 271.1h5v5h-5zM377.1 271.1h5v5h-5zM442.1 276.1h5v5h-5zM572.1 281.1h5v5h-5zM397.1 286.1h5v5h-5zM587.1 286.1h5v5h-5zM327.1 296.1h5v5h-5zM557.1 296.1h5v5h-5zM402.1 301.1h5v5h-5zM582.1 301.1h5v5h-5zM477.1 306.1h5v5h-5zM327.1 316.1h5v5h-5zM372.1 331.1h5v5h-5zM337.1 346.1h5v5h-5zM357.1 346.1h5v5h-5zM467.1 351.1h5v5h-5zM397.1 356.1h5v5h-5z"/>
<path fill="#b4b4ff" d="M362.1 231.1h5v5h-5zM327.1 271.1h5v5h-5zM427.1 271.1h5v5h-5zM367.1 281.1h5v5h-5zM327.1 286.1h5v5h-5zM357.1 286.1h5v5h-5zM362.1 291.1h10v5h-10zM342.1 296.1h15v5h-15zM347.1 301.1h10v5h-10zM382.1 301.1h5v5h-5zM357.1 306.1h5v5h-5zM477.1 311.1h5v5h-5zM362.1 316.1h5v5h-5z"/>
<path fill="#aeaeff" d="M377.1 231.1h5v5h-5zM387.1 251.1h5v5h-5zM427.1 256.1h5v5h-5zM337.1 271.1h5v5h-5zM342.1 276.1h5v5h-5zM347.1 281.1h5v5h-5zM347.1 306.1h10v5h-10zM357.1 311.1h5v5h-5zM472.1 311.1h5v5h-5zM362.1 321.1h5v5h-5zM337.1 326.1h5v5h-5zM362.1 326.1h5v5h-5z"/>
<path fill="#ccccff" d="M422.1 231.1h5v5h-5zM437.1 231.1h5v5h-5zM357.1 261.1h5v5h-5zM507.1 261.1h5v5h-5zM327.1 266.1h5v5h-5zM372.1 266.1h15v5h-15zM362.1 271.1h5v5h-5zM562.1 286.1h5v5h-5zM587.1 291.1h5v5h-5zM332.1 301.1h5v5h-5zM502.1 301.1h5v5h-5zM572.1 301.1h5v5h-5zM332.1 306.1h5v5h-5zM472.1 306.1h5v5h-5zM502.1 306.1h5v5h-5zM397.1 316.1h5v5h-5zM462.1 341.1h5v5h-5zM472.1 346.1h5v5h-5zM577.1 361.1h5v5h-5zM572.1 366.1h5v5h-5zM577.1 371.1h5v5h-5z"/>
<path fill="#c0c0ff" d="M352.1 236.1h5v5h-5zM422.1 246.1h5v5h-5zM392.1 251.1h5v5h-5zM342.1 271.1h5v5h-5zM347.1 276.1h5v5h-5zM362.1 276.1h5v5h-5zM417.1 276.1h10v5h-10zM407.1 286.1h5v5h-5zM567.1 286.1h5v5h-5zM562.1 291.1h5v5h-5zM582.1 296.1h5v5h-5zM337.1 301.1h5v5h-5zM397.1 301.1h5v5h-5zM332.1 321.1h5v5h-5zM367.1 321.1h5v5h-5zM332.1 326.1h5v5h-5zM367.1 326.1h5v5h-5zM477.1 326.1h5v5h-5zM467.1 341.1h5v5h-5z"/>
<path fill="#9f9fff" d="M357.1 236.1h5v5h-5zM352.1 251.1h5v5h-5zM397.1 276.1h5v5h-5zM357.1 321.1h5v5h-5zM342.1 326.1h5v5h-5z"/>
<path fill="#7e7eff" d="M362.1 236.1h5v5h-5zM372.1 251.1h5v5h-5z"/>
<path fill="#6c6cff" d="M367.1 236.1h5v5h-5zM357.1 246.1h5v5h-5zM402.1 271.1h10v5h-10z"/>
<path fill="#6969ff" d="M372.1 236.1h5v5h-5z"/>
<path fill="#7878ff" d="M377.1 236.1h5v5h-5zM357.1 241.1h5v5h-5z"/>
<path fill="#9c9cff" d="M382.1 236.1h5v5h-5zM382.1 251.1h5v5h-5zM422.1 256.1h5v5h-5zM412.1 266.1h5v5h-5zM347.1 316.1h10v5h-10zM472.1 316.1h5v5h-5zM342.1 321.1h5v5h-5z"/>
<path fill="#d2d2ff" d="M417.1 236.1h5v5h-5zM347.1 256.1h5v5h-5zM507.1 256.1h5v5h-5zM382.1 261.1h5v5h-5zM402.1 261.1h5v5h-5zM362.1 266.1h5v5h-5zM357.1 271.1h5v5h-5zM437.1 271.1h5v5h-5zM437.1 281.1h5v5h-5zM322.1 286.1h5v5h-5zM557.1 291.1h5v5h-5zM377.1 296.1h5v5h-5zM587.1 296.1h5v5h-5zM377.1 311.1h5v5h-5zM482.1 311.1h5v5h-5zM327.1 321.1h5v5h-5zM372.1 321.1h5v5h-5zM327.1 326.1h5v5h-5zM472.1 331.1h5v5h-5zM452.1 336.1h5v5h-5zM452.1 341.1h5v5h-5zM342.1 346.1h5v5h-5zM352.1 346.1h5v5h-5zM407.1 356.1h5v5h-5zM572.1 361.1h5v5h-5zM572.1 371.1h5v5h-5z"/>
<path fill="#bdbdff" d="M427.1 236.1h10v5h-10zM347.1 246.1h5v5h-5zM432.1 246.1h5v5h-5zM352.1 256.1h5v5h-5zM357.1 281.1h5v5h-5zM412.1 281.1h5v5h-5zM372.1 296.1h5v5h-5zM362.1 301.1h5v5h-5zM377.1 301.1h5v5h-5zM337.1 306.1h5v5h-5zM362.1 306.1h5v5h-5zM377.1 306.1h5v5h-5zM387.1 316.1h10v5h-10z"/>
<path fill="#a2a2ff" d="M352.1 241.1h5v5h-5zM427.1 261.1h5v5h-5zM402.1 266.1h5v5h-5zM412.1 276.1h5v5h-5zM407.1 281.1h5v5h-5zM397.1 311.1h5v5h-5zM342.1 316.1h5v5h-5zM472.1 321.1h5v5h-5zM357.1 326.1h5v5h-5zM347.1 331.1h10v5h-10z"/>
<path fill="#5454ff" d="M362.1 241.1h5v5h-5zM377.1 241.1h5v5h-5z"/>
<path fill="#4242ff" d="M367.1 241.1h10v5h-10z"/>
<path fill="#7575ff" d="M382.1 241.1h5v5h-5zM382.1 246.1h5v5h-5zM407.1 276.1h5v5h-5z"/>
<path fill="#babaff" d="M427.1 241.1h10v5h-10zM427.1 246.1h5v5h-5zM377.1 256.1h5v5h-5zM397.1 266.1h5v5h-5zM367.1 276.1h5v5h-5zM352.1 281.1h5v5h-5zM577.1 286.1h5v5h-5zM337.1 296.1h5v5h-5zM362.1 296.1h10v5h-10zM512.1 301.1h5v5h-5zM362.1 311.1h5v5h-5zM467.1 321.1h5v5h-5zM472.1 326.1h5v5h-5zM467.1 346.1h5v5h-5z"/>
<path fill="#9393ff" d="M352.1 246.1h5v5h-5zM417.1 266.1h5v5h-5zM387.1 306.1h10v5h-10z"/>
<path fill="#4e4eff" d="M362.1 246.1h5v5h-5z"/>
<path fill="#4545ff" d="M367.1 246.1h5v5h-5z"/>
<path fill="#4b4bff" d="M372.1 246.1h5v5h-5z"/>
<path fill="#5d5dff" d="M377.1 246.1h5v5h-5z"/>
<path fill="#9999ff" d="M387.1 246.1h5v5h-5zM407.1 266.1h5v5h-5zM397.1 271.1h5v5h-5zM337.1 276.1h5v5h-5zM342.1 281.1h5v5h-5zM402.1 281.1h5v5h-5zM332.1 286.1h5v5h-5zM347.1 326.1h10v5h-10z"/>
<path fill="#8181ff" d="M357.1 251.1h5v5h-5z"/>
<path fill="#7272ff" d="M362.1 251.1h10v5h-10z"/>
<path fill="#8d8dff" d="M377.1 251.1h5v5h-5zM337.1 286.1h5v5h-5zM392.1 311.1h5v5h-5z"/>
<path fill="#b7b7ff" d="M422.1 251.1h10v5h-10zM362.1 281.1h5v5h-5zM402.1 286.1h5v5h-5zM572.1 286.1h5v5h-5zM357.1 291.1h5v5h-5zM582.1 291.1h5v5h-5zM357.1 296.1h5v5h-5zM567.1 296.1h5v5h-5zM342.1 301.1h5v5h-5zM357.1 301.1h5v5h-5zM337.1 311.1h5v5h-5zM467.1 316.1h5v5h-5zM337.1 331.1h5v5h-5zM362.1 331.1h5v5h-5zM342.1 336.1h5v5h-5zM357.1 336.1h5v5h-5z"/>
<path fill="#ababff" d="M357.1 256.1h5v5h-5zM412.1 261.1h5v5h-5zM417.1 271.1h10v5h-10zM347.1 291.1h5v5h-5zM387.1 301.1h5v5h-5zM397.1 306.1h5v5h-5zM342.1 311.1h5v5h-5zM337.1 321.1h5v5h-5zM357.1 331.1h5v5h-5z"/>
<path fill="#b1b1ff" d="M372.1 256.1h5v5h-5zM352.1 286.1h5v5h-5zM362.1 286.1h10v5h-10zM332.1 291.1h5v5h-5zM352.1 291.1h5v5h-5zM567.1 291.1h5v5h-5zM572.1 296.1h10v5h-10zM392.1 301.1h5v5h-5zM342.1 306.1h5v5h-5zM507.1 306.1h5v5h-5zM337.1 316.1h5v5h-5zM347.1 336.1h10v5h-10z"/>
<path fill="#8a8aff" d="M417.1 261.1h5v5h-5zM337.1 281.1h5v5h-5z"/>
<path fill="#8787ff" d="M422.1 261.1h5v5h-5z"/>
<path fill="#9090ff" d="M422.1 266.1h5v5h-5zM332.1 281.1h5v5h-5zM387.1 311.1h5v5h-5z"/>
<path fill="#9696ff" d="M412.1 271.1h5v5h-5zM332.1 276.1h5v5h-5zM342.1 286.1h5v5h-5zM347.1 321.1h10v5h-10z"/>
<path fill="#6f6fff" d="M402.1 276.1h5v5h-5z"/>
<path fill="#ff0000" d="M382.1 281.1h5v5h-5zM382.1 286.1h5v5h-5z"/>
<path fill="#ff1e1e" d="M387.1 281.1h5v5h-5z"/>
<path fill="#ff8a8a" d="M377.1 286.1h5v5h-5z"/>
<path fill="#ff1515" d="M387.1 286.1h5v5h-5z"/>
<path fill="#ff9999" d="M382.1 291.1h5v5h-5z"/>
<path fill="#ff9f9f" d="M482.1 291.1h5v5h-5z"/></g>
<polygon points="640.8,179.2 646.2,176.4 652.9,173.5 659.8,170.8 660.2,172.0 652.9,177.2 646.2,180.4 640.8,182.3" fill="#ffffff" stroke="#000" stroke-width="1.1" stroke-linejoin="round"/>
<polygon points="443.4,121.1 450.1,114.5 456.8,109.1 462.1,105.1 466.1,102.4 471.5,99.7 477.5,97.7 483.5,101.1 494.3,106.4 505.0,111.1 511.7,113.8 514.3,117.1 515.7,119.8 517.0,120.5 514.3,118.5 510.3,119.1 505.0,119.8 499.6,120.5 494.3,121.1 488.9,119.1 483.5,117.8 478.9,115.8 480.9,113.1 484.9,109.8 482.2,109.1 479.5,111.8 477.5,113.8 474.2,117.1 467.5,120.5 460.8,122.5 457.4,121.1 458.8,116.5 456.1,116.1 454.8,118.5 450.0,120.0 446.0,122.0" fill="#617f95" stroke="#617f95" stroke-width="0.6" stroke-linejoin="round"/>
<polygon points="471.5,100.8 473.5,100.2 475.5,100.6 473.0,103.0 471.5,103.3" fill="#ffffff" />
<polygon points="516.2,127.0 507.5,128.8 500.0,131.2 495.5,133.8 492.0,140.0 490.0,148.8 489.5,157.5 489.5,167.5 490.8,177.5 492.0,184.0 493.8,188.0 497.0,191.0 501.2,189.0 504.0,184.0 506.0,176.0 506.2,170.0 504.5,163.8 502.5,155.0 503.2,146.2 505.0,140.0 510.0,135.0 513.8,131.2 516.2,129.0" fill="#617f95" stroke="#617f95" stroke-width="0.6" stroke-linejoin="round"/>
<polygon points="485.5,148.0 488.0,141.0 491.0,134.5 493.0,134.0 490.0,141.0 487.0,149.0" fill="#617f95" stroke="#617f95" stroke-width="0.6" stroke-linejoin="round"/>
<polygon points="516.2,120.0 520.3,124.7 531.3,129.4 539.1,134.1 542.2,143.4 543.8,154.4 546.1,165.3 546.9,171.6 545.3,179.4 542.2,184.1 540.5,184.0 539.1,184.1 540.6,179.4 543.8,174.7 545.3,168.4 543.8,163.8 540.6,159.1 535.9,158.3 531.3,159.1 529.7,155.9 532.8,151.3 533.6,145.0 531.3,138.8 526.6,134.1 520.3,129.4 516.8,127.9 516.2,127.0" fill="#617f95" stroke="#617f95" stroke-width="0.6" stroke-linejoin="round"/>
<polygon points="540.0,182.5 547.5,183.8 557.5,180.0 567.5,175.0 575.0,170.0 580.0,165.0 581.2,160.0 582.5,163.8 580.0,169.5 575.0,174.5 567.5,180.0 557.5,185.0 547.5,187.5 538.8,186.2" fill="#617f95" stroke="#617f95" stroke-width="0.6" stroke-linejoin="round"/>
<polygon points="580.0,155.0 585.0,151.2 595.0,148.0 605.0,143.8 608.0,142.5 608.8,145.5 606.2,148.0 600.0,151.2 590.0,153.8 581.2,156.2" fill="#617f95" stroke="#617f95" stroke-width="0.6" stroke-linejoin="round"/>
<polygon points="225.0,176.0 228.0,177.0 229.0,181.0 232.0,181.0 233.0,184.0 230.0,186.0 229.0,189.0 227.0,189.5 225.5,184.0 224.5,179.0" fill="#617f95" stroke="#617f95" stroke-width="0.6" stroke-linejoin="round"/>
<polygon points="594.5,386.5 599.0,386.5 600.5,389.0 598.5,392.5 595.0,391.5" fill="#617f95" stroke="#617f95" stroke-width="0.6" stroke-linejoin="round"/>
<polygon points="166.0,281.5 168.5,282.0 169.5,285.5 167.5,286.5 165.5,284.0" fill="#617f95" />
<polygon points="231.5,196.0 233.5,196.5 233.5,199.0 231.5,199.0" fill="#617f95" />
<polygon points="141.5,191.0 143.0,191.0 143.2,194.0 141.5,194.0" fill="#617f95" />
<polygon points="229.5,84.0 230.8,84.0 231.0,88.0 229.6,88.0" fill="#617f95" />
<polygon points="209.0,77.0 211.0,77.5 211.0,80.0 209.5,80.0" fill="#617f95" />
<polygon points="412.0,101.5 415.5,100.5 419.0,101.5 418.0,104.0 414.0,104.5" fill="#617f95" />
<polygon points="426.0,127.0 429.0,126.5 430.0,129.0 427.0,130.0" fill="#617f95" />
<polygon points="419.0,114.0 421.0,114.0 421.5,116.5 419.5,116.5" fill="#617f95" />
<polygon points="256.5,139.5 258.5,139.5 259.0,142.5 257.0,142.5" fill="#617f95" />
<polygon points="595.0,386.5 599.0,386.0 600.5,389.0 599.0,392.5 595.5,392.0" fill="#617f95" />
<polygon points="467.5,360.5 471.0,358.5 475.0,359.0 474.0,361.5 470.0,362.0" fill="#617f95" />
<polygon points="147.5,151.5 149.5,151.5 149.5,154.0 147.5,154.0" fill="#617f95" />
<polygon points="621.4,202.7 619.4,205.4 618.8,208.8 618.1,211.4 618.8,215.5 620.1,219.5 622.1,223.5 624.1,227.5 626.1,231.6 627.5,235.6 628.8,239.6 630.2,243.0 630.8,240.0 630.3,238.5 629.8,236.9 629.2,234.2 629.5,230.2 628.8,225.5 627.5,221.5 625.5,216.8 624.1,212.8 623.5,208.8 622.8,204.7" fill="#617f95" />
<polygon points="635.6,205.7 632.8,204.6 629.5,202.4 627.8,199.5 626.1,200.0 627.5,202.7 630.8,204.7 634.2,208.1" fill="#617f95" />
<polyline points="330.0,98.0 333.0,97.5 336.0,99.0 339.0,101.0 341.0,103.0 344.0,104.5 347.0,104.0 350.0,104.5" fill="none" stroke="#617f95" stroke-width="1.3" stroke-linejoin="round" stroke-linecap="round" />
<polyline points="287.5,101.0 291.0,101.5 294.0,100.5 297.0,101.0 300.0,100.0 304.0,99.0 305.0,102.0" fill="none" stroke="#617f95" stroke-width="1.3" stroke-linejoin="round" stroke-linecap="round" />
<polyline points="631.2,121.8 632.5,128.0 633.5,134.0 634.5,139.5" fill="none" stroke="#617f95" stroke-width="1.3" stroke-linejoin="round" stroke-linecap="round" />
<polyline points="188.8,248.5 192.0,247.5 195.0,248.5 198.0,246.5 200.0,246.0" fill="none" stroke="#617f95" stroke-width="1.3" stroke-linejoin="round" stroke-linecap="round" />
<polyline points="171.5,65.5 173.0,68.5 175.0,72.5" fill="none" stroke="#3a4a5a" stroke-width="0.8" stroke-linejoin="round" stroke-linecap="round" />
<polyline points="132.0,84.2 140.0,88.0 142.5,94.2 152.5,98.0 162.5,100.5 175.0,101.8 187.5,103.0 198.8,105.5" fill="none" stroke="#808080" stroke-width="1.35" stroke-linejoin="round" stroke-linecap="round" />
<polyline points="207.5,65.5 198.8,105.5" fill="none" stroke="#808080" stroke-width="1.35" stroke-linejoin="round" stroke-linecap="round" />
<polyline points="198.8,105.5 201.2,110.5 200.0,118.0 195.0,125.5 191.2,133.0 190.0,139.8 183.8,161.2" fill="none" stroke="#808080" stroke-width="1.35" stroke-linejoin="round" stroke-linecap="round" />
<polyline points="216.0,67.5 214.5,75.0 213.6,83.4 215.0,88.0 216.9,93.5 219.5,98.5 222.0,103.5 221.5,110.0 220.3,116.9 225.3,120.3 227.0,125.0 228.7,130.3 233.7,137.0 238.0,136.5 243.7,137.0 247.0,138.5 251.2,138.7" fill="none" stroke="#808080" stroke-width="1.35" stroke-linejoin="round" stroke-linecap="round" />
<polyline points="111.2,140.5 152.5,153.8 183.8,161.2 215.0,168.8 243.8,174.5" fill="none" stroke="#808080" stroke-width="1.35" stroke-linejoin="round" stroke-linecap="round" />
<polyline points="252.5,132.5 243.8,174.5 243.0,188.0" fill="none" stroke="#808080" stroke-width="1.35" stroke-linejoin="round" stroke-linecap="round" />
<polyline points="152.5,153.8 142.5,192.5 170.0,236.0 187.5,261.5" fill="none" stroke="#808080" stroke-width="1.35" stroke-linejoin="round" stroke-linecap="round" />
<polyline points="214.2,168.8 200.0,246.0 195.0,248.5 188.8,248.5" fill="none" stroke="#808080" stroke-width="1.35" stroke-linejoin="round" stroke-linecap="round" />
<polyline points="188.8,248.5 187.5,261.0 191.2,274.8 183.8,283.5 181.2,291.0 180.0,296.5" fill="none" stroke="#808080" stroke-width="1.35" stroke-linejoin="round" stroke-linecap="round" />
<polyline points="200.0,237.2 230.0,242.5 256.2,247.2 280.0,250.5 300.0,253.5 335.0,257.0 360.0,259.0 390.0,260.0 420.0,260.5" fill="none" stroke="#808080" stroke-width="1.35" stroke-linejoin="round" stroke-linecap="round" />
<polyline points="265.0,192.5 256.2,247.2 243.8,326.6" fill="none" stroke="#808080" stroke-width="1.35" stroke-linejoin="round" stroke-linecap="round" />
<polyline points="243.0,188.0 265.0,192.5 290.0,195.5 318.8,198.5 338.8,200.5" fill="none" stroke="#808080" stroke-width="1.35" stroke-linejoin="round" stroke-linecap="round" />
<polyline points="329.0,86.0 325.5,130.0 323.5,142.0 321.2,170.5 318.8,198.5" fill="none" stroke="#808080" stroke-width="1.35" stroke-linejoin="round" stroke-linecap="round" />
<polyline points="252.5,132.5 280.0,136.5 300.0,139.5 323.5,142.0" fill="none" stroke="#808080" stroke-width="1.35" stroke-linejoin="round" stroke-linecap="round" />
<polyline points="325.5,128.8 360.0,131.0 397.5,133.0" fill="none" stroke="#808080" stroke-width="1.35" stroke-linejoin="round" stroke-linecap="round" />
<polyline points="393.8,89.2 395.0,103.0 396.2,118.0 398.8,133.0 400.0,167.5 397.5,172.5 400.0,181.2" fill="none" stroke="#808080" stroke-width="1.35" stroke-linejoin="round" stroke-linecap="round" />
<polyline points="321.2,170.5 350.0,172.5 377.5,173.8 385.0,176.2 395.0,177.5 400.0,181.2 402.5,188.8 403.8,197.5 406.2,207.5 410.0,215.0 413.8,218.8 416.2,222.5 417.5,228.8 419.5,233.8 420.0,260.5 420.1,267.5 421.0,305.9 421.2,307.5" fill="none" stroke="#808080" stroke-width="1.35" stroke-linejoin="round" stroke-linecap="round" />
<polyline points="398.8,167.5 452.5,167.5" fill="none" stroke="#808080" stroke-width="1.35" stroke-linejoin="round" stroke-linecap="round" />
<polyline points="338.8,200.5 337.5,215.0 335.0,257.0" fill="none" stroke="#808080" stroke-width="1.35" stroke-linejoin="round" stroke-linecap="round" />
<polyline points="337.5,215.0 380.0,217.5 413.8,218.8" fill="none" stroke="#808080" stroke-width="1.35" stroke-linejoin="round" stroke-linecap="round" />
<polyline points="407.5,208.8 430.0,208.4 449.0,208.3 452.2,210.6" fill="none" stroke="#808080" stroke-width="1.35" stroke-linejoin="round" stroke-linecap="round" />
<polyline points="443.4,121.1 441.4,123.8 439.4,129.2 436.7,134.5 437.4,141.2 438.8,147.5 445.0,155.0 452.5,162.5 455.0,167.5" fill="none" stroke="#808080" stroke-width="1.35" stroke-linejoin="round" stroke-linecap="round" />
<polyline points="452.5,167.5 456.2,175.0 460.0,180.0 463.5,185.0 462.0,191.0 459.0,195.0 457.7,199.7 455.3,204.4 453.8,209.1 452.2,210.6 453.8,215.3 456.9,221.6 460.0,226.2 463.1,230.9 467.0,232.5 467.8,237.2 467.8,241.9 470.9,245.0 475.6,248.1 477.2,252.8 479.5,257.5 480.3,260.6 479.5,262.5 477.7,263.8 475.9,269.3 474.1,276.6 471.3,285.8 468.6,291.3 464.9,296.8 462.2,302.2 460.3,307.7 461.3,315.0 460.0,325.0 457.5,333.8 456.2,343.8 470.0,344.6 478.9,343.9 479.6,348.7 480.9,352.8" fill="none" stroke="#808080" stroke-width="1.35" stroke-linejoin="round" stroke-linecap="round" />
<polyline points="460.0,180.5 491.0,179.0" fill="none" stroke="#808080" stroke-width="1.35" stroke-linejoin="round" stroke-linecap="round" />
<polyline points="460.8,122.5 464.8,125.2 474.2,129.2 483.5,131.9 488.9,141.2 487.5,146.0" fill="none" stroke="#808080" stroke-width="1.35" stroke-linejoin="round" stroke-linecap="round" />
<polyline points="494.0,187.3 494.9,207.5 495.8,222.1 496.8,229.4 494.9,234.9 493.1,242.2 492.2,245.9" fill="none" stroke="#808080" stroke-width="1.35" stroke-linejoin="round" stroke-linecap="round" />
<polyline points="494.0,189.2 523.3,187.3 538.9,184.6" fill="none" stroke="#808080" stroke-width="1.35" stroke-linejoin="round" stroke-linecap="round" />
<polyline points="523.3,187.3 527.0,223.9" fill="none" stroke="#808080" stroke-width="1.35" stroke-linejoin="round" stroke-linecap="round" />
<polyline points="480.3,257.5 485.0,255.2 489.7,252.8 492.2,245.9 498.6,244.1 504.1,243.2 509.6,242.2 515.1,238.6 520.5,234.9 524.2,231.3 527.0,227.6 527.9,224.9 533.4,225.8 538.9,228.5 546.2,229.4 551.7,228.5 553.5,230.5 554.4,229.4 558.1,223.9 561.7,220.3 566.3,216.6 569.0,212.0 570.5,206.0 570.0,196.4" fill="none" stroke="#808080" stroke-width="1.35" stroke-linejoin="round" stroke-linecap="round" />
<polyline points="567.5,176.2 570.0,196.4 572.2,209.3 585.0,206.5 600.0,204.0 622.0,199.6" fill="none" stroke="#808080" stroke-width="1.35" stroke-linejoin="round" stroke-linecap="round" />
<polyline points="575.0,174.5 600.0,171.0 615.0,167.8 621.7,167.2 626.1,168.9 629.5,174.5 638.4,176.7" fill="none" stroke="#808080" stroke-width="1.35" stroke-linejoin="round" stroke-linecap="round" />
<polyline points="629.5,174.5 627.3,181.2 629.5,186.8 633.4,190.1 628.4,195.7 626.1,199.0 623.6,199.6 627.6,215.7 636.0,216.5" fill="none" stroke="#808080" stroke-width="1.35" stroke-linejoin="round" stroke-linecap="round" />
<polyline points="584.0,206.5 584.5,212.0 588.0,209.5 593.0,206.5 598.0,205.0 601.5,206.0 603.0,210.0 606.0,211.0 609.0,213.0 612.0,216.0" fill="none" stroke="#808080" stroke-width="1.35" stroke-linejoin="round" stroke-linecap="round" />
<polyline points="553.5,230.5 554.5,235.0 559.3,239.9 562.5,243.1 565.7,244.7 568.9,244.7 572.2,243.9 575.4,241.5 578.6,236.6 581.8,231.8 586.6,227.0 589.9,222.2 593.1,217.3 597.9,214.1 601.9,210.1" fill="none" stroke="#808080" stroke-width="1.35" stroke-linejoin="round" stroke-linecap="round" />
<polyline points="562.5,243.1 556.1,249.5 549.6,254.3 543.2,257.2" fill="none" stroke="#808080" stroke-width="1.35" stroke-linejoin="round" stroke-linecap="round" />
<polyline points="477.7,264.7 494.2,262.9 495.1,261.1 521.7,258.3 543.2,257.0 566.4,254.3 590.0,250.5 610.0,247.5 628.9,244.5" fill="none" stroke="#808080" stroke-width="1.35" stroke-linejoin="round" stroke-linecap="round" />
<polyline points="539.6,280.2 540.5,277.5 546.8,273.9 555.7,268.6 561.1,264.1 564.6,259.6 566.4,254.5" fill="none" stroke="#808080" stroke-width="1.35" stroke-linejoin="round" stroke-linecap="round" />
<polyline points="471.3,286.7 494.2,285.8 523.5,283.0 539.6,282.2 551.2,281.0" fill="none" stroke="#808080" stroke-width="1.35" stroke-linejoin="round" stroke-linecap="round" />
<polyline points="551.2,281.0 557.5,276.6 577.1,274.8 581.6,278.4 593.2,276.6 607.5,286.4" fill="none" stroke="#808080" stroke-width="1.35" stroke-linejoin="round" stroke-linecap="round" />
<polyline points="551.2,281.1 555.7,286.4 562.9,293.6 570.0,300.7 577.1,307.9 582.5,315.0 585.0,317.5" fill="none" stroke="#808080" stroke-width="1.35" stroke-linejoin="round" stroke-linecap="round" />
<polyline points="495.1,285.8 494.6,320.0 495.3,333.7 495.9,344.6 496.6,351.4" fill="none" stroke="#808080" stroke-width="1.35" stroke-linejoin="round" stroke-linecap="round" />
<polyline points="524.4,283.0 528.9,293.6 532.5,304.3 535.5,320.0 534.8,325.5 536.2,330.9 536.9,339.1" fill="none" stroke="#808080" stroke-width="1.35" stroke-linejoin="round" stroke-linecap="round" />
<polyline points="506.2,347.3 505.5,341.8 506.2,341.8 536.9,339.1 538.3,341.8 573.8,340.5 575.1,342.5 575.8,337.1 579.2,336.4" fill="none" stroke="#808080" stroke-width="1.35" stroke-linejoin="round" stroke-linecap="round" />
<polyline points="421.2,307.5 426.2,308.8 426.2,315.0 461.3,315.2" fill="none" stroke="#808080" stroke-width="1.35" stroke-linejoin="round" stroke-linecap="round" />
<polyline points="426.2,315.0 427.5,332.5 431.2,342.5 430.0,352.5 429.5,361.5" fill="none" stroke="#808080" stroke-width="1.35" stroke-linejoin="round" stroke-linecap="round" />
<polyline points="421.2,290.0 421.2,307.5" fill="none" stroke="#808080" stroke-width="1.35" stroke-linejoin="round" stroke-linecap="round" />
<polyline points="356.2,293.0 358.5,295.0 361.0,295.5 364.5,297.2 368.0,297.5 372.7,299.3 376.0,299.5 380.9,302.4 384.0,302.5 386.0,304.0 389.1,304.4 392.0,304.0 394.0,305.5 397.3,305.4 401.0,304.5 405.5,304.4 409.0,303.0 413.7,303.4 417.0,305.0 420.0,306.5 422.0,308.5" fill="none" stroke="#808080" stroke-width="1.35" stroke-linejoin="round" stroke-linecap="round" />
<polyline points="323.5,257.5 323.5,262.5 357.3,265.4 356.2,293.0" fill="none" stroke="#808080" stroke-width="1.35" stroke-linejoin="round" stroke-linecap="round" />
<polyline points="323.5,262.5 321.2,290.0 317.5,326.2 273.8,322.5" fill="none" stroke="#808080" stroke-width="1.35" stroke-linejoin="round" stroke-linecap="round" />
<polyline points="470.4,265.6 467.7,273.0 475.0,272.0 477.7,265.6" fill="none" stroke="#808080" stroke-width="1.35" stroke-linejoin="round" stroke-linecap="round" />
<polyline points="420.1,267.5 470.4,265.6" fill="none" stroke="#808080" stroke-width="1.35" stroke-linejoin="round" stroke-linecap="round" />
<polyline points="640.2,118.3 640.8,130.0 641.6,150.4 640.2,161.2 641.6,177.2" fill="none" stroke="#808080" stroke-width="1.35" stroke-linejoin="round" stroke-linecap="round" />
<polyline points="646.9,115.6 648.3,126.3 646.9,150.4" fill="none" stroke="#808080" stroke-width="1.35" stroke-linejoin="round" stroke-linecap="round" />
<polyline points="653.6,112.9 657.6,123.6 660.3,134.3 664.3,147.7" fill="none" stroke="#808080" stroke-width="1.35" stroke-linejoin="round" stroke-linecap="round" />
<polyline points="640.2,150.4 664.3,147.7" fill="none" stroke="#808080" stroke-width="1.35" stroke-linejoin="round" stroke-linecap="round" />
<polyline points="640.2,161.2 663.0,158.5" fill="none" stroke="#808080" stroke-width="1.35" stroke-linejoin="round" stroke-linecap="round" />
<polyline points="653.6,159.8 655.0,169.2" fill="none" stroke="#808080" stroke-width="1.35" stroke-linejoin="round" stroke-linecap="round" />
<polyline points="155.6,50.5 170.0,54.5 190.0,60.0 207.5,65.5 216.2,67.2 230.0,70.5 250.0,74.2 280.0,79.0 320.0,84.2 350.0,87.5 380.0,89.0 412.5,89.2 413.0,85.5 414.5,85.5 414.5,89.2 420.0,93.0 430.0,95.0 435.4,96.4 440.7,98.4 447.4,101.7 456.8,101.7 462.0,102.0 466.1,102.4" fill="none" stroke="#000" stroke-width="0.7" stroke-linejoin="round" stroke-linecap="round" />
<polyline points="122.6,29.1 122.6,29.3 124.8,31.6 126.6,34.2 128.4,36.9 129.7,39.6 131.1,42.3 133.3,44.5 134.2,45.9 136.4,48.5 140.0,51.2 143.6,53.9 147.1,54.8 149.8,54.8 148.0,51.2 146.2,47.6 144.5,44.1 141.8,40.5 140.0,36.0 138.7,31.6 138.2,29.1 141.8,29.1 142.7,31.6 144.5,34.2 146.2,35.6 149.8,36.9 152.5,39.6 153.4,43.2 154.3,45.9 155.2,50.3 155.6,53.0 154.0,58.0 152.5,62.8 151.6,61.0 149.8,60.1 146.2,58.8 141.8,57.0 137.3,54.8 133.8,52.1 133.3,54.8 134.2,58.4 134.5,63.0 133.8,73.0 132.5,80.5 132.0,88.0 127.5,100.5 120.0,113.0 113.8,123.0 110.0,133.0 108.8,140.0 106.2,150.0 102.5,160.0 102.0,170.0 103.0,180.0 103.0,185.0 104.8,188.6 106.6,193.0 107.5,196.6 105.7,198.4 108.4,199.3 110.2,202.0 109.3,205.5 108.8,210.0 110.2,213.6 113.8,217.1 112.9,220.7 111.5,225.0 113.8,229.0 115.0,236.0 118.8,246.0 117.5,253.5 125.0,258.5 133.8,261.0 140.0,266.0 146.2,273.5 150.0,281.0 150.5,291.0 152.5,300.0 154.1,309.4 157.2,321.9 160.3,334.4 165.0,346.9 169.7,356.2 171.2,364.1 163.4,362.5 160.3,364.1 168.1,370.3 174.4,378.1 180.6,382.8 186.9,390.6 190.0,400.0 188.4,407.8 191.6,415.6 197.8,421.9 204.1,431.2 208.8,437.5" fill="none" stroke="#000" stroke-width="1.5" stroke-linejoin="round" stroke-linecap="round" />
<polyline points="174.4,306.2 174.4,307.8 172.8,318.8 174.4,331.2 180.6,343.8 186.9,353.1 191.6,365.6 194.7,378.1 197.8,387.5 200.9,396.9 204.1,406.2 207.2,415.6 211.9,425.0 216.6,431.2 219.7,437.5" fill="none" stroke="#000" stroke-width="1.5" stroke-linejoin="round" stroke-linecap="round" />
<polyline points="254.1,437.5 249.4,428.1 243.1,418.8 236.9,409.4 230.6,400.0 224.4,390.6 218.1,381.2 211.9,371.9 200.9,359.4 196.2,346.9 194.7,334.4 193.1,321.9 183.8,312.5" fill="none" stroke="#000" stroke-width="1.5" stroke-linejoin="round" stroke-linecap="round" />
<polyline points="694.0,105.0 691.2,107.5 686.0,110.5 683.1,112.9 677.7,116.9 672.4,123.6 668.4,130.3 665.5,136.0 664.3,141.0 664.3,147.7 667.5,152.5 672.5,151.2 676.2,153.8 677.5,156.2 675.0,158.8 677.5,162.5 673.8,163.8 668.8,161.2 665.0,162.5 661.8,166.7 654.0,170.0 646.2,172.3 640.6,175.6 638.4,177.8 639.0,179.0 637.3,183.4 640.1,186.8 641.2,192.3 640.6,197.9 638.4,202.4 635.6,205.7 634.2,208.1 635.5,209.4 636.2,216.8 634.9,222.2 632.2,227.5 630.2,234.2 629.8,235.5 630.3,238.5 630.8,239.3 633.3,244.2 635.7,249.1 638.2,254.0 639.4,258.9 636.9,261.3 633.3,266.3 630.8,269.9 628.3,272.4 623.4,276.1 618.5,278.5 614.8,282.2 611.2,285.9 607.5,290.8 603.8,294.5 598.9,298.2 594.0,303.1 589.1,308.0 586.2,312.5 583.3,320.0 581.3,326.8 580.6,333.7 581.3,340.5 583.3,347.3 586.0,352.8 590.0,358.2 592.5,362.5 596.2,368.8 600.0,377.5 603.8,385.0 606.2,392.5 607.8,397.3 607.8,406.4 606.6,412.1 602.1,414.4 597.5,413.2 593.0,408.7 587.3,401.9 582.8,396.2 578.2,390.5 573.7,383.7 572.4,380.0 571.7,374.6 571.0,369.1 568.3,365.0 565.6,361.0 561.5,357.5 557.4,354.1 553.3,351.4 550.5,350.7 547.8,352.1 544.4,354.8 541.0,356.9 538.3,357.5 535.5,356.2 532.8,352.8 530.1,350.0 526.0,348.7 521.9,348.0 516.4,348.7 511.0,348.7 505.5,350.7 501.4,352.1 497.3,352.8 491.8,351.4 487.7,352.1 483.6,352.8 480.0,354.0 477.0,355.0 482.5,360.0 486.2,358.8 485.0,365.0 488.8,368.8 486.2,371.2 480.0,370.0 475.0,367.5 470.0,368.8 466.2,370.0 460.0,367.5 453.8,365.0 451.2,362.5 445.0,363.8 437.5,362.5 430.0,361.2 417.5,365.0 412.5,370.0 405.0,376.2 397.5,380.0 390.0,385.0 383.8,392.5 381.2,400.0 382.5,407.5 385.0,417.5" fill="none" stroke="#000" stroke-width="1.5" stroke-linejoin="round" stroke-linecap="round" />
<polyline points="385.0,417.5 382.5,427.5 380.0,438.0" fill="none" stroke="#000" stroke-width="1.5" stroke-linejoin="round" stroke-linecap="round" />
<polyline points="694.0,105.0 693.1,103.6 698.9,97.7 703.2,94.1 709.0,89.0 712.7,84.7 714.1,83.2 712.0,80.0 709.0,76.0 704.5,70.2 702.5,64.2 703.5,58.2 701.5,56.1 698.5,55.1 690.5,57.7 683.4,60.2 685.4,59.2 694.5,57.1 700.5,54.1 702.5,50.1 703.5,46.1 701.5,42.1 696.5,39.7 688.4,40.1 680.4,42.5 672.4,47.7 666.3,54.1 660.3,63.2 656.3,71.2 652.3,79.3 647.2,87.3 646.2,88.3 651.5,78.3 655.0,68.2 658.5,58.2 662.5,52.1 667.5,46.1 671.2,40.1 674.0,34.0 677.4,30.0 678.0,29.1" fill="none" stroke="#000" stroke-width="1.5" stroke-linejoin="round" stroke-linecap="round" />
<polyline points="531.8,29.1 534.1,30.7 532.8,33.5 534.6,33.9 538.2,35.3 541.9,38.0 544.6,40.7 546.4,44.4 549.1,45.3 552.8,44.8 553.7,41.6 555.5,39.8 558.2,38.9 560.1,40.7 561.0,43.5 561.9,39.8 560.1,37.1 560.1,34.4 561.4,31.6 562.3,29.1" fill="none" stroke="#000" stroke-width="1.5" stroke-linejoin="round" stroke-linecap="round" />
<polyline points="617.5,124.2 622.1,116.4 630.2,107.4 640.2,96.3 646.2,88.3" fill="none" stroke="#000" stroke-width="1.5" stroke-linejoin="round" stroke-linecap="round" />
<polyline points="621.4,202.7 619.4,205.4 618.8,208.8 618.1,211.4 618.8,215.5 620.1,219.5 622.1,223.5 624.1,227.5 626.1,231.6 627.5,235.6 628.8,239.6 630.2,243.0 630.8,240.0 630.3,238.5 629.8,236.9 629.2,234.2 629.5,230.2 628.8,225.5 627.5,221.5 625.5,216.8 624.1,212.8 623.5,208.8 622.8,204.7" fill="none" stroke="#000" stroke-width="1.5" stroke-linejoin="round" stroke-linecap="round" />
<polyline points="635.6,205.7 632.8,204.6 629.5,202.4 627.8,199.5 626.1,200.0 627.5,202.7 630.8,204.7 634.2,208.1" fill="none" stroke="#000" stroke-width="1.5" stroke-linejoin="round" stroke-linecap="round" />
<polyline points="117.0,259.5 121.0,260.5 125.0,261.5 128.0,263.0" fill="none" stroke="#000" stroke-width="1.3" stroke-linejoin="round" stroke-linecap="round" />
<polyline points="124.5,273.0 126.0,274.0" fill="none" stroke="#000" stroke-width="1.3" stroke-linejoin="round" stroke-linecap="round" />
<polyline points="134.5,273.0 136.5,275.5" fill="none" stroke="#000" stroke-width="1.3" stroke-linejoin="round" stroke-linecap="round" />
<polyline points="135.5,279.0 137.0,282.5" fill="none" stroke="#000" stroke-width="1.3" stroke-linejoin="round" stroke-linecap="round" />
<polyline points="600.0,158.0 601.5,161.5" fill="none" stroke="#000" stroke-width="1.3" stroke-linejoin="round" stroke-linecap="round" />
<polyline points="602.5,157.0 604.0,161.0" fill="none" stroke="#000" stroke-width="1.3" stroke-linejoin="round" stroke-linecap="round" />
<polyline points="605.0,156.5 606.0,159.5" fill="none" stroke="#000" stroke-width="1.3" stroke-linejoin="round" stroke-linecap="round" />
<polyline points="618.8,215.5 614.0,217.5 611.5,219.0 613.0,220.5 617.0,221.5 620.1,219.5" fill="none" stroke="#000" stroke-width="1.3" stroke-linejoin="round" stroke-linecap="round" />
<polyline points="622.1,223.5 617.4,223.0 614.7,225.0" fill="none" stroke="#000" stroke-width="1.3" stroke-linejoin="round" stroke-linecap="round" />
<polyline points="624.1,227.5 620.1,229.0" fill="none" stroke="#000" stroke-width="1.3" stroke-linejoin="round" stroke-linecap="round" />
<polyline points="627.5,235.6 622.8,234.2 618.8,235.6 614.7,236.2" fill="none" stroke="#000" stroke-width="1.3" stroke-linejoin="round" stroke-linecap="round" />
<polyline points="621.4,202.7 619.4,203.5 618.8,205.4" fill="none" stroke="#000" stroke-width="1.3" stroke-linejoin="round" stroke-linecap="round" />
<polyline points="618.1,211.4 616.0,212.5" fill="none" stroke="#000" stroke-width="1.3" stroke-linejoin="round" stroke-linecap="round" />
<polyline points="620.1,226.2 617.5,227.0" fill="none" stroke="#000" stroke-width="1.3" stroke-linejoin="round" stroke-linecap="round" />
<polyline points="108.4,199.3 111.1,198.4 112.9,197.9 116.4,199.7 121.8,202.0" fill="none" stroke="#000" stroke-width="1.3" stroke-linejoin="round" stroke-linecap="round" />
<polyline points="110.2,202.0 112.0,202.9 112.5,205.5 112.9,208.2" fill="none" stroke="#000" stroke-width="1.3" stroke-linejoin="round" stroke-linecap="round" />
<polyline points="730.8,49.0 731.5,52.0 731.7,56.0" fill="none" stroke="#000" stroke-width="1.3" stroke-linejoin="round" stroke-linecap="round" />
<polyline points="623.4,249.1 628.3,251.5 633.3,250.3" fill="none" stroke="#000" stroke-width="1.3" stroke-linejoin="round" stroke-linecap="round" />
<polyline points="623.4,258.9 630.8,260.1 634.5,257.7" fill="none" stroke="#000" stroke-width="1.3" stroke-linejoin="round" stroke-linecap="round" />
<polyline points="622.2,263.8 628.3,266.3 632.0,268.7" fill="none" stroke="#000" stroke-width="1.3" stroke-linejoin="round" stroke-linecap="round" />
<polyline points="626.0,246.5 631.0,247.5" fill="none" stroke="#000" stroke-width="1.3" stroke-linejoin="round" stroke-linecap="round" />
<polyline points="132.0,84.0 136.0,85.5 140.0,88.0" fill="none" stroke="#000" stroke-width="1.3" stroke-linejoin="round" stroke-linecap="round" />
<polyline points="133.5,77.5 136.0,78.5" fill="none" stroke="#000" stroke-width="1.3" stroke-linejoin="round" stroke-linecap="round" />
<polyline points="144.5,34.2 147.1,35.1" fill="none" stroke="#000" stroke-width="1.3" stroke-linejoin="round" stroke-linecap="round" />
<polyline points="148.9,30.7 151.6,29.8" fill="none" stroke="#000" stroke-width="1.3" stroke-linejoin="round" stroke-linecap="round" />
<polyline points="152.5,39.6 155.2,38.7" fill="none" stroke="#000" stroke-width="1.3" stroke-linejoin="round" stroke-linecap="round" />
<polyline points="153.4,43.2 156.1,44.1" fill="none" stroke="#000" stroke-width="1.3" stroke-linejoin="round" stroke-linecap="round" />
<polyline points="149.8,36.9 151.6,37.8" fill="none" stroke="#000" stroke-width="1.3" stroke-linejoin="round" stroke-linecap="round" />
<polyline points="124.8,31.6 126.6,32.0" fill="none" stroke="#000" stroke-width="1.3" stroke-linejoin="round" stroke-linecap="round" />
<polyline points="125.7,33.4 128.4,33.4" fill="none" stroke="#000" stroke-width="1.3" stroke-linejoin="round" stroke-linecap="round" />
<polyline points="127.5,36.9 129.3,36.5" fill="none" stroke="#000" stroke-width="1.3" stroke-linejoin="round" stroke-linecap="round" />
<polyline points="131.1,41.4 136.4,41.4 137.5,40.5" fill="none" stroke="#000" stroke-width="1.3" stroke-linejoin="round" stroke-linecap="round" />
<polyline points="621.5,389.3 626.0,387.3 630.6,386.2 634.5,385.0" fill="none" stroke="#000" stroke-width="1.8" stroke-linejoin="round" stroke-linecap="round" />
<polyline points="634.5,385.0 637.5,383.0 641.5,386.0 645.0,388.5 646.5,393.0 645.5,395.5" fill="none" stroke="#000" stroke-width="1.8" stroke-linejoin="round" stroke-linecap="round" />
<polyline points="653.3,399.6 658.0,400.8 660.0,403.0 663.5,409.8" fill="none" stroke="#000" stroke-width="1.8" stroke-linejoin="round" stroke-linecap="round" />
<polyline points="669.2,409.8 673.7,414.4 676.0,416.7" fill="none" stroke="#000" stroke-width="1.8" stroke-linejoin="round" stroke-linecap="round" />
<polyline points="687.4,414.4 688.0,415.0" fill="none" stroke="#000" stroke-width="1.8" stroke-linejoin="round" stroke-linecap="round" />
<polyline points="668.0,424.6 673.7,425.8" fill="none" stroke="#000" stroke-width="1.8" stroke-linejoin="round" stroke-linecap="round" />
<polyline points="678.3,423.5 682.8,428.0 686.2,431.4" fill="none" stroke="#000" stroke-width="1.8" stroke-linejoin="round" stroke-linecap="round" />
<polyline points="694.2,431.4 698.8,433.7 698.8,437.0" fill="none" stroke="#000" stroke-width="1.8" stroke-linejoin="round" stroke-linecap="round" />
<polyline points="710.0,433.7 717.0,434.8" fill="none" stroke="#000" stroke-width="1.8" stroke-linejoin="round" stroke-linecap="round" />
<polyline points="727.0,437.0 733.0,437.5" fill="none" stroke="#000" stroke-width="1.8" stroke-linejoin="round" stroke-linecap="round" />
<polyline points="644.0,408.7 647.6,408.7" fill="none" stroke="#000" stroke-width="1.8" stroke-linejoin="round" stroke-linecap="round" />
<polyline points="589.6,425.7 596.4,422.3 603.2,418.9 607.8,413.2" fill="none" stroke="#000" stroke-width="1.6" stroke-linejoin="round" stroke-linecap="round" stroke-dasharray="3.5 1.5"/>
<polyline points="694.0,105.0 691.2,107.5 686.0,110.5 683.1,112.9 677.7,116.9 672.4,123.6 668.4,130.3 665.5,136.0 664.3,141.0 664.3,147.7 667.5,152.5 672.5,151.2" fill="none" stroke="#000" stroke-width="2.2" stroke-linejoin="round" stroke-linecap="round" />
<polygon points="148.9,49.4 155.3,49.4 156.0,55.1 155.3,60.9 156.0,64.4 154.6,68.0 151.7,72.3 148.9,75.1 145.3,74.4 144.6,70.9 147.4,68.0 150.3,65.9 151.0,62.3 149.6,58.7 148.1,55.1" fill="#000" stroke="#000" stroke-width="0.8" stroke-linejoin="round"/>
<polygon points="150.2,49.6 154.5,49.6 154.8,54.0 153.6,58.5 152.2,60.5 150.8,57.0 150.0,53.0" fill="#617f95" />
<polygon points="147.9,69.5 149.8,68.8 150.3,71.0 148.6,72.4" fill="#ffffff" />
</g>
<line x1="10" y1="437.5" x2="754.5" y2="437.5" stroke="#000" stroke-width="1"/>
<line x1="754.0" y1="29.1" x2="754.0" y2="438" stroke="#000" stroke-width="1"/>
<rect x="801.7" y="41.0" width="18.59999999999991" height="385.2" fill="url(#cb)" stroke="#000" stroke-width="1.0"/>
<line x1="820.8" y1="69.5" x2="825.5" y2="69.5" stroke="#000" stroke-width="1.0"/>
<text x="829.3" y="74.9" font-family="Liberation Sans, sans-serif" font-size="14.2" fill="#000">6</text>
<line x1="820.8" y1="124.5" x2="825.5" y2="124.5" stroke="#000" stroke-width="1.0"/>
<text x="829.3" y="129.9" font-family="Liberation Sans, sans-serif" font-size="14.2" fill="#000">4</text>
<line x1="820.8" y1="179.5" x2="825.5" y2="179.5" stroke="#000" stroke-width="1.0"/>
<text x="829.3" y="184.9" font-family="Liberation Sans, sans-serif" font-size="14.2" fill="#000">2</text>
<line x1="820.8" y1="234.5" x2="825.5" y2="234.5" stroke="#000" stroke-width="1.0"/>
<text x="829.3" y="239.9" font-family="Liberation Sans, sans-serif" font-size="14.2" fill="#000">0</text>
<line x1="820.8" y1="362.5" x2="825.5" y2="362.5" stroke="#000" stroke-width="1.0"/>
<text x="830.8" y="367.9" font-family="Liberation Sans, sans-serif" font-size="14.2" textLength="17.2" lengthAdjust="spacingAndGlyphs" fill="#000">−2</text>
<text transform="translate(866.3,311.8) rotate(-90)" font-family="Liberation Sans, sans-serif" font-size="13.9" textLength="154.8" lengthAdjust="spacingAndGlyphs" fill="#000">Standardized anomaly</text></svg></body></html>
